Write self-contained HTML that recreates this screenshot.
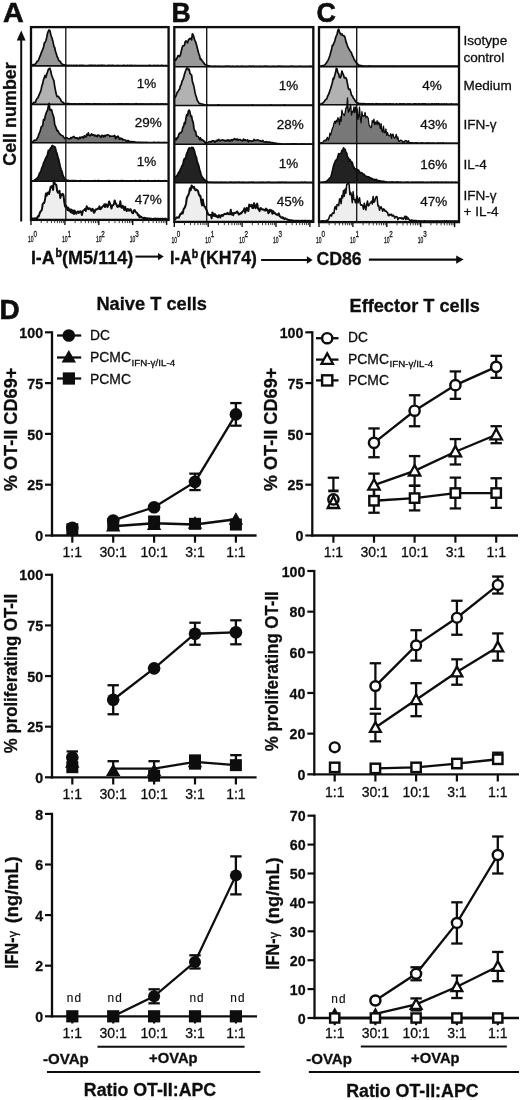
<!DOCTYPE html>
<html><head><meta charset="utf-8"><title>Figure</title>
<style>html,body{margin:0;padding:0;background:#fff;}svg{display:block;will-change:transform;}text{font-family:"Liberation Sans",sans-serif;fill:#0c0c0c;stroke:#0c0c0c;stroke-width:0.28px;}</style>
</head><body>
<svg width="520" height="1100" viewBox="0 0 520 1100">
<defs><filter id="soft" x="0" y="0" width="520" height="1100" filterUnits="userSpaceOnUse"><feGaussianBlur stdDeviation="0.38"/></filter></defs>
<rect x="0" y="0" width="520" height="1100" fill="#fff"/>
<g filter="url(#soft)">
<text x="2.90" y="21.60" font-size="27.2" font-weight="bold" textLength="20.7" lengthAdjust="spacingAndGlyphs" style="stroke-width:0.6px">A</text>
<text x="171.40" y="21.60" font-size="27.2" font-weight="bold" textLength="19.2" lengthAdjust="spacingAndGlyphs" style="stroke-width:0.6px">B</text>
<text x="316.40" y="21.60" font-size="27.2" font-weight="bold" textLength="19.4" lengthAdjust="spacingAndGlyphs" style="stroke-width:0.6px">C</text>
<text x="-0.60" y="318.70" font-size="28.0" font-weight="bold" textLength="20.2" lengthAdjust="spacingAndGlyphs" style="stroke-width:0.6px">D</text>
<path d="M31.5,65.7 L31.5,65.5 L32.3,65.1 L33.1,64.7 L33.9,64.6 L34.7,64.5 L35.5,63.8 L36.3,62.7 L37.1,61.4 L37.9,61.1 L38.7,59.7 L39.5,57.3 L40.3,55.7 L41.1,53.2 L41.9,51.2 L42.7,49.6 L43.5,47.4 L44.3,43.0 L45.1,42.5 L45.9,40.5 L46.7,37.7 L47.5,33.3 L48.3,31.3 L49.1,29.9 L49.9,30.6 L50.7,34.3 L51.5,36.8 L52.3,39.0 L53.1,42.2 L53.9,46.4 L54.7,47.5 L55.5,51.5 L56.3,53.6 L57.1,56.8 L57.9,58.0 L58.7,60.3 L59.5,61.2 L60.3,61.3 L61.1,63.3 L61.9,63.9 L62.7,64.6 L63.5,64.7 L64.3,64.9 L65.1,65.2 L65.9,65.2 L66.7,65.3 L67.5,65.5 L68.3,65.3 L69.1,65.5 L69.9,65.3 L70.7,65.5 L71.5,65.4 L72.3,65.5 L73.1,65.4 L73.9,65.5 L74.7,65.4 L75.5,65.5 L76.3,65.3 L77.1,65.4 L77.9,65.5 L78.7,65.5 L79.5,65.4 L80.3,65.4 L81.1,65.3 L81.9,65.5 L82.7,65.4 L83.5,65.4 L84.3,65.5 L85.1,65.5 L85.9,65.5 L86.7,65.5 L87.5,65.5 L88.3,65.5 L89.1,65.4 L89.9,65.3 L90.7,65.4 L91.5,65.4 L92.3,65.4 L93.1,65.4 L93.9,65.5 L94.7,65.4 L95.5,65.3 L96.3,65.5 L97.1,65.5 L97.9,65.3 L98.7,65.5 L99.5,65.4 L100.3,65.4 L101.1,65.5 L101.9,65.2 L102.7,65.3 L103.5,65.5 L104.3,65.4 L105.1,65.5 L105.9,65.5 L106.7,65.5 L107.5,65.5 L108.3,65.4 L109.1,65.4 L109.9,65.5 L110.7,65.4 L111.5,65.5 L112.3,65.4 L113.1,65.4 L113.9,65.5 L114.7,65.5 L115.5,65.5 L116.3,65.5 L117.1,65.5 L117.9,65.4 L118.7,65.5 L119.5,65.5 L120.3,65.5 L121.1,65.5 L121.9,65.5 L122.7,65.5 L123.5,65.3 L124.3,65.4 L125.1,65.5 L125.9,65.5 L126.7,65.5 L127.5,65.3 L128.3,65.5 L129.1,65.5 L129.9,65.4 L130.7,65.5 L131.5,65.3 L132.3,65.5 L133.1,65.5 L133.9,65.5 L134.7,65.4 L135.5,65.5 L136.3,65.5 L137.1,65.5 L137.9,65.5 L138.7,65.5 L139.5,65.5 L140.3,65.5 L141.1,65.5 L141.9,65.5 L142.7,65.5 L143.5,65.5 L144.3,65.5 L145.1,65.5 L145.9,65.5 L146.7,65.5 L147.5,65.5 L148.3,65.5 L149.1,65.4 L149.9,65.4 L150.7,65.5 L151.5,65.5 L152.3,65.5 L153.1,65.5 L153.9,65.5 L154.7,65.3 L155.5,65.5 L156.3,65.5 L157.1,65.5 L157.9,65.4 L158.7,65.5 L159.5,65.5 L160.3,65.5 L161.1,65.5 L161.9,65.2 L162.7,65.5 L163.5,65.5 L164.3,65.5 L165.1,65.5 L165.9,65.5 L166.7,65.5 L167.5,65.5 L168.1,65.7 Z" fill="#999999" stroke="none"/>
<path d="M31.5,65.5 L32.3,65.1 L33.1,64.7 L33.9,64.6 L34.7,64.5 L35.5,63.8 L36.3,62.7 L37.1,61.4 L37.9,61.1 L38.7,59.7 L39.5,57.3 L40.3,55.7 L41.1,53.2 L41.9,51.2 L42.7,49.6 L43.5,47.4 L44.3,43.0 L45.1,42.5 L45.9,40.5 L46.7,37.7 L47.5,33.3 L48.3,31.3 L49.1,29.9 L49.9,30.6 L50.7,34.3 L51.5,36.8 L52.3,39.0 L53.1,42.2 L53.9,46.4 L54.7,47.5 L55.5,51.5 L56.3,53.6 L57.1,56.8 L57.9,58.0 L58.7,60.3 L59.5,61.2 L60.3,61.3 L61.1,63.3 L61.9,63.9 L62.7,64.6 L63.5,64.7 L64.3,64.9 L65.1,65.2 L65.9,65.2 L66.7,65.3 L67.5,65.5 L68.3,65.3 L69.1,65.5 L69.9,65.3 L70.7,65.5 L71.5,65.4 L72.3,65.5 L73.1,65.4 L73.9,65.5 L74.7,65.4 L75.5,65.5 L76.3,65.3 L77.1,65.4 L77.9,65.5 L78.7,65.5 L79.5,65.4 L80.3,65.4 L81.1,65.3 L81.9,65.5 L82.7,65.4 L83.5,65.4 L84.3,65.5 L85.1,65.5 L85.9,65.5 L86.7,65.5 L87.5,65.5 L88.3,65.5 L89.1,65.4 L89.9,65.3 L90.7,65.4 L91.5,65.4 L92.3,65.4 L93.1,65.4 L93.9,65.5 L94.7,65.4 L95.5,65.3 L96.3,65.5 L97.1,65.5 L97.9,65.3 L98.7,65.5 L99.5,65.4 L100.3,65.4 L101.1,65.5 L101.9,65.2 L102.7,65.3 L103.5,65.5 L104.3,65.4 L105.1,65.5 L105.9,65.5 L106.7,65.5 L107.5,65.5 L108.3,65.4 L109.1,65.4 L109.9,65.5 L110.7,65.4 L111.5,65.5 L112.3,65.4 L113.1,65.4 L113.9,65.5 L114.7,65.5 L115.5,65.5 L116.3,65.5 L117.1,65.5 L117.9,65.4 L118.7,65.5 L119.5,65.5 L120.3,65.5 L121.1,65.5 L121.9,65.5 L122.7,65.5 L123.5,65.3 L124.3,65.4 L125.1,65.5 L125.9,65.5 L126.7,65.5 L127.5,65.3 L128.3,65.5 L129.1,65.5 L129.9,65.4 L130.7,65.5 L131.5,65.3 L132.3,65.5 L133.1,65.5 L133.9,65.5 L134.7,65.4 L135.5,65.5 L136.3,65.5 L137.1,65.5 L137.9,65.5 L138.7,65.5 L139.5,65.5 L140.3,65.5 L141.1,65.5 L141.9,65.5 L142.7,65.5 L143.5,65.5 L144.3,65.5 L145.1,65.5 L145.9,65.5 L146.7,65.5 L147.5,65.5 L148.3,65.5 L149.1,65.4 L149.9,65.4 L150.7,65.5 L151.5,65.5 L152.3,65.5 L153.1,65.5 L153.9,65.5 L154.7,65.3 L155.5,65.5 L156.3,65.5 L157.1,65.5 L157.9,65.4 L158.7,65.5 L159.5,65.5 L160.3,65.5 L161.1,65.5 L161.9,65.2 L162.7,65.5 L163.5,65.5 L164.3,65.5 L165.1,65.5 L165.9,65.5 L166.7,65.5 L167.5,65.5" fill="none" stroke="#0a0a0a" stroke-width="1.7" stroke-linejoin="round"/>
<path d="M31.5,104.2 L31.5,104.0 L32.3,103.8 L33.1,103.1 L33.9,102.3 L34.7,102.6 L35.5,102.1 L36.3,99.9 L37.1,98.4 L37.9,97.9 L38.7,95.9 L39.5,93.9 L40.3,92.2 L41.1,89.7 L41.9,85.7 L42.7,83.6 L43.5,79.8 L44.3,77.6 L45.1,75.4 L45.9,77.5 L46.7,74.6 L47.5,72.1 L48.3,69.5 L49.1,68.7 L49.9,68.2 L50.7,71.0 L51.5,74.8 L52.3,77.0 L53.1,79.0 L53.9,80.8 L54.7,86.3 L55.5,90.6 L56.3,94.3 L57.1,96.6 L57.9,96.3 L58.7,96.8 L59.5,98.3 L60.3,98.9 L61.1,100.9 L61.9,101.8 L62.7,102.1 L63.5,103.0 L64.3,103.5 L65.1,103.5 L65.9,103.7 L66.7,103.5 L67.5,103.7 L68.3,103.6 L69.1,103.7 L69.9,104.0 L70.7,103.7 L71.5,103.9 L72.3,104.0 L73.1,103.9 L73.9,103.8 L74.7,103.8 L75.5,103.8 L76.3,104.0 L77.1,104.0 L77.9,104.0 L78.7,103.9 L79.5,103.8 L80.3,104.0 L81.1,103.9 L81.9,103.9 L82.7,103.8 L83.5,104.0 L84.3,104.0 L85.1,104.0 L85.9,103.7 L86.7,103.8 L87.5,103.9 L88.3,103.9 L89.1,103.9 L89.9,103.9 L90.7,104.0 L91.5,104.0 L92.3,104.0 L93.1,104.0 L93.9,103.7 L94.7,103.9 L95.5,103.9 L96.3,104.0 L97.1,103.9 L97.9,103.9 L98.7,104.0 L99.5,103.9 L100.3,103.9 L101.1,104.0 L101.9,104.0 L102.7,104.0 L103.5,104.0 L104.3,103.9 L105.1,104.0 L105.9,104.0 L106.7,104.0 L107.5,104.0 L108.3,104.0 L109.1,103.8 L109.9,104.0 L110.7,104.0 L111.5,104.0 L112.3,104.0 L113.1,103.9 L113.9,104.0 L114.7,104.0 L115.5,104.0 L116.3,104.0 L117.1,104.0 L117.9,103.9 L118.7,103.9 L119.5,104.0 L120.3,103.8 L121.1,104.0 L121.9,103.9 L122.7,103.9 L123.5,104.0 L124.3,104.0 L125.1,104.0 L125.9,103.9 L126.7,103.9 L127.5,104.0 L128.3,103.9 L129.1,104.0 L129.9,104.0 L130.7,104.0 L131.5,104.0 L132.3,104.0 L133.1,104.0 L133.9,104.0 L134.7,104.0 L135.5,103.8 L136.3,103.7 L137.1,104.0 L137.9,104.0 L138.7,104.0 L139.5,104.0 L140.3,103.8 L141.1,104.0 L141.9,104.0 L142.7,103.9 L143.5,104.0 L144.3,104.0 L145.1,104.0 L145.9,104.0 L146.7,104.0 L147.5,104.0 L148.3,104.0 L149.1,104.0 L149.9,104.0 L150.7,104.0 L151.5,103.9 L152.3,104.0 L153.1,104.0 L153.9,104.0 L154.7,104.0 L155.5,104.0 L156.3,104.0 L157.1,103.9 L157.9,104.0 L158.7,104.0 L159.5,104.0 L160.3,104.0 L161.1,103.9 L161.9,104.0 L162.7,103.9 L163.5,104.0 L164.3,104.0 L165.1,104.0 L165.9,104.0 L166.7,104.0 L167.5,104.0 L168.1,104.2 Z" fill="#b2b2b2" stroke="none"/>
<path d="M31.5,104.0 L32.3,103.8 L33.1,103.1 L33.9,102.3 L34.7,102.6 L35.5,102.1 L36.3,99.9 L37.1,98.4 L37.9,97.9 L38.7,95.9 L39.5,93.9 L40.3,92.2 L41.1,89.7 L41.9,85.7 L42.7,83.6 L43.5,79.8 L44.3,77.6 L45.1,75.4 L45.9,77.5 L46.7,74.6 L47.5,72.1 L48.3,69.5 L49.1,68.7 L49.9,68.2 L50.7,71.0 L51.5,74.8 L52.3,77.0 L53.1,79.0 L53.9,80.8 L54.7,86.3 L55.5,90.6 L56.3,94.3 L57.1,96.6 L57.9,96.3 L58.7,96.8 L59.5,98.3 L60.3,98.9 L61.1,100.9 L61.9,101.8 L62.7,102.1 L63.5,103.0 L64.3,103.5 L65.1,103.5 L65.9,103.7 L66.7,103.5 L67.5,103.7 L68.3,103.6 L69.1,103.7 L69.9,104.0 L70.7,103.7 L71.5,103.9 L72.3,104.0 L73.1,103.9 L73.9,103.8 L74.7,103.8 L75.5,103.8 L76.3,104.0 L77.1,104.0 L77.9,104.0 L78.7,103.9 L79.5,103.8 L80.3,104.0 L81.1,103.9 L81.9,103.9 L82.7,103.8 L83.5,104.0 L84.3,104.0 L85.1,104.0 L85.9,103.7 L86.7,103.8 L87.5,103.9 L88.3,103.9 L89.1,103.9 L89.9,103.9 L90.7,104.0 L91.5,104.0 L92.3,104.0 L93.1,104.0 L93.9,103.7 L94.7,103.9 L95.5,103.9 L96.3,104.0 L97.1,103.9 L97.9,103.9 L98.7,104.0 L99.5,103.9 L100.3,103.9 L101.1,104.0 L101.9,104.0 L102.7,104.0 L103.5,104.0 L104.3,103.9 L105.1,104.0 L105.9,104.0 L106.7,104.0 L107.5,104.0 L108.3,104.0 L109.1,103.8 L109.9,104.0 L110.7,104.0 L111.5,104.0 L112.3,104.0 L113.1,103.9 L113.9,104.0 L114.7,104.0 L115.5,104.0 L116.3,104.0 L117.1,104.0 L117.9,103.9 L118.7,103.9 L119.5,104.0 L120.3,103.8 L121.1,104.0 L121.9,103.9 L122.7,103.9 L123.5,104.0 L124.3,104.0 L125.1,104.0 L125.9,103.9 L126.7,103.9 L127.5,104.0 L128.3,103.9 L129.1,104.0 L129.9,104.0 L130.7,104.0 L131.5,104.0 L132.3,104.0 L133.1,104.0 L133.9,104.0 L134.7,104.0 L135.5,103.8 L136.3,103.7 L137.1,104.0 L137.9,104.0 L138.7,104.0 L139.5,104.0 L140.3,103.8 L141.1,104.0 L141.9,104.0 L142.7,103.9 L143.5,104.0 L144.3,104.0 L145.1,104.0 L145.9,104.0 L146.7,104.0 L147.5,104.0 L148.3,104.0 L149.1,104.0 L149.9,104.0 L150.7,104.0 L151.5,103.9 L152.3,104.0 L153.1,104.0 L153.9,104.0 L154.7,104.0 L155.5,104.0 L156.3,104.0 L157.1,103.9 L157.9,104.0 L158.7,104.0 L159.5,104.0 L160.3,104.0 L161.1,103.9 L161.9,104.0 L162.7,103.9 L163.5,104.0 L164.3,104.0 L165.1,104.0 L165.9,104.0 L166.7,104.0 L167.5,104.0" fill="none" stroke="#0a0a0a" stroke-width="1.7" stroke-linejoin="round"/>
<path d="M31.5,142.6 L31.5,142.1 L32.3,142.3 L33.1,141.7 L33.9,140.6 L34.7,140.2 L35.5,140.3 L36.3,139.9 L37.1,138.5 L37.9,137.3 L38.7,134.8 L39.5,132.8 L40.3,130.9 L41.1,127.2 L41.9,126.4 L42.7,125.6 L43.5,119.6 L44.3,120.2 L45.1,116.8 L45.9,113.8 L46.7,111.7 L47.5,110.4 L48.3,106.5 L49.1,103.4 L49.9,109.9 L50.7,110.4 L51.5,109.6 L52.3,112.8 L53.1,115.3 L53.9,117.7 L54.7,124.7 L55.5,126.4 L56.3,128.4 L57.1,130.6 L57.9,130.7 L58.7,132.3 L59.5,133.8 L60.3,134.3 L61.1,135.3 L61.9,135.5 L62.7,135.7 L63.5,137.1 L64.3,137.9 L65.1,138.5 L65.9,137.5 L66.7,137.7 L67.5,138.2 L68.3,138.6 L69.1,138.8 L69.9,138.7 L70.7,137.7 L71.5,138.3 L72.3,137.2 L73.1,137.1 L73.9,136.5 L74.7,137.8 L75.5,137.9 L76.3,138.1 L77.1,137.8 L77.9,138.9 L78.7,138.8 L79.5,137.3 L80.3,138.4 L81.1,137.1 L81.9,137.5 L82.7,137.0 L83.5,138.0 L84.3,135.9 L85.1,136.7 L85.9,136.9 L86.7,134.4 L87.5,135.3 L88.3,132.9 L89.1,135.3 L89.9,135.7 L90.7,135.2 L91.5,133.8 L92.3,135.1 L93.1,134.8 L93.9,134.8 L94.7,136.1 L95.5,135.3 L96.3,135.9 L97.1,136.6 L97.9,135.0 L98.7,135.2 L99.5,135.8 L100.3,136.6 L101.1,137.4 L101.9,135.3 L102.7,135.7 L103.5,136.9 L104.3,135.5 L105.1,136.6 L105.9,135.3 L106.7,135.1 L107.5,134.8 L108.3,135.0 L109.1,135.2 L109.9,136.5 L110.7,136.1 L111.5,136.3 L112.3,136.3 L113.1,136.1 L113.9,136.1 L114.7,135.5 L115.5,138.8 L116.3,136.8 L117.1,137.5 L117.9,136.1 L118.7,137.3 L119.5,139.2 L120.3,138.2 L121.1,139.0 L121.9,138.4 L122.7,139.8 L123.5,139.5 L124.3,139.8 L125.1,140.0 L125.9,140.5 L126.7,141.3 L127.5,140.6 L128.3,140.7 L129.1,141.3 L129.9,141.6 L130.7,141.6 L131.5,141.6 L132.3,141.8 L133.1,141.8 L133.9,141.7 L134.7,142.1 L135.5,142.1 L136.3,142.4 L137.1,142.3 L137.9,142.4 L138.7,142.4 L139.5,142.4 L140.3,142.2 L141.1,142.4 L141.9,142.5 L142.7,142.2 L143.5,142.5 L144.3,142.5 L145.1,142.4 L145.9,142.5 L146.7,142.3 L147.5,142.5 L148.3,142.5 L149.1,142.5 L149.9,142.5 L150.7,142.5 L151.5,142.5 L152.3,142.5 L153.1,142.5 L153.9,142.4 L154.7,142.4 L155.5,142.5 L156.3,142.5 L157.1,142.5 L157.9,142.5 L158.7,142.2 L159.5,142.5 L160.3,142.5 L161.1,142.5 L161.9,142.5 L162.7,142.5 L163.5,142.5 L164.3,142.3 L165.1,142.5 L165.9,142.5 L166.7,142.5 L167.5,142.5 L168.1,142.6 Z" fill="#787878" stroke="none"/>
<path d="M31.5,142.1 L32.3,142.3 L33.1,141.7 L33.9,140.6 L34.7,140.2 L35.5,140.3 L36.3,139.9 L37.1,138.5 L37.9,137.3 L38.7,134.8 L39.5,132.8 L40.3,130.9 L41.1,127.2 L41.9,126.4 L42.7,125.6 L43.5,119.6 L44.3,120.2 L45.1,116.8 L45.9,113.8 L46.7,111.7 L47.5,110.4 L48.3,106.5 L49.1,103.4 L49.9,109.9 L50.7,110.4 L51.5,109.6 L52.3,112.8 L53.1,115.3 L53.9,117.7 L54.7,124.7 L55.5,126.4 L56.3,128.4 L57.1,130.6 L57.9,130.7 L58.7,132.3 L59.5,133.8 L60.3,134.3 L61.1,135.3 L61.9,135.5 L62.7,135.7 L63.5,137.1 L64.3,137.9 L65.1,138.5 L65.9,137.5 L66.7,137.7 L67.5,138.2 L68.3,138.6 L69.1,138.8 L69.9,138.7 L70.7,137.7 L71.5,138.3 L72.3,137.2 L73.1,137.1 L73.9,136.5 L74.7,137.8 L75.5,137.9 L76.3,138.1 L77.1,137.8 L77.9,138.9 L78.7,138.8 L79.5,137.3 L80.3,138.4 L81.1,137.1 L81.9,137.5 L82.7,137.0 L83.5,138.0 L84.3,135.9 L85.1,136.7 L85.9,136.9 L86.7,134.4 L87.5,135.3 L88.3,132.9 L89.1,135.3 L89.9,135.7 L90.7,135.2 L91.5,133.8 L92.3,135.1 L93.1,134.8 L93.9,134.8 L94.7,136.1 L95.5,135.3 L96.3,135.9 L97.1,136.6 L97.9,135.0 L98.7,135.2 L99.5,135.8 L100.3,136.6 L101.1,137.4 L101.9,135.3 L102.7,135.7 L103.5,136.9 L104.3,135.5 L105.1,136.6 L105.9,135.3 L106.7,135.1 L107.5,134.8 L108.3,135.0 L109.1,135.2 L109.9,136.5 L110.7,136.1 L111.5,136.3 L112.3,136.3 L113.1,136.1 L113.9,136.1 L114.7,135.5 L115.5,138.8 L116.3,136.8 L117.1,137.5 L117.9,136.1 L118.7,137.3 L119.5,139.2 L120.3,138.2 L121.1,139.0 L121.9,138.4 L122.7,139.8 L123.5,139.5 L124.3,139.8 L125.1,140.0 L125.9,140.5 L126.7,141.3 L127.5,140.6 L128.3,140.7 L129.1,141.3 L129.9,141.6 L130.7,141.6 L131.5,141.6 L132.3,141.8 L133.1,141.8 L133.9,141.7 L134.7,142.1 L135.5,142.1 L136.3,142.4 L137.1,142.3 L137.9,142.4 L138.7,142.4 L139.5,142.4 L140.3,142.2 L141.1,142.4 L141.9,142.5 L142.7,142.2 L143.5,142.5 L144.3,142.5 L145.1,142.4 L145.9,142.5 L146.7,142.3 L147.5,142.5 L148.3,142.5 L149.1,142.5 L149.9,142.5 L150.7,142.5 L151.5,142.5 L152.3,142.5 L153.1,142.5 L153.9,142.4 L154.7,142.4 L155.5,142.5 L156.3,142.5 L157.1,142.5 L157.9,142.5 L158.7,142.2 L159.5,142.5 L160.3,142.5 L161.1,142.5 L161.9,142.5 L162.7,142.5 L163.5,142.5 L164.3,142.3 L165.1,142.5 L165.9,142.5 L166.7,142.5 L167.5,142.5" fill="none" stroke="#0a0a0a" stroke-width="1.7" stroke-linejoin="round"/>
<path d="M31.5,181.0 L31.5,180.8 L32.3,180.8 L33.1,180.8 L33.9,180.7 L34.7,180.0 L35.5,179.4 L36.3,178.8 L37.1,178.2 L37.9,177.4 L38.7,175.7 L39.5,173.1 L40.3,172.4 L41.1,170.2 L41.9,167.6 L42.7,166.2 L43.5,163.1 L44.3,161.8 L45.1,159.5 L45.9,157.6 L46.7,156.5 L47.5,154.5 L48.3,150.6 L49.1,150.2 L49.9,149.2 L50.7,147.8 L51.5,147.0 L52.3,145.5 L53.1,145.9 L53.9,146.7 L54.7,146.6 L55.5,148.4 L56.3,151.7 L57.1,153.8 L57.9,156.9 L58.7,159.3 L59.5,163.3 L60.3,166.7 L61.1,169.5 L61.9,171.2 L62.7,174.3 L63.5,176.7 L64.3,178.0 L65.1,178.8 L65.9,179.6 L66.7,180.1 L67.5,180.6 L68.3,180.3 L69.1,180.6 L69.9,180.8 L70.7,180.5 L71.5,180.8 L72.3,180.6 L73.1,180.7 L73.9,180.8 L74.7,180.7 L75.5,180.7 L76.3,180.8 L77.1,180.8 L77.9,180.8 L78.7,180.8 L79.5,180.8 L80.3,180.6 L81.1,180.8 L81.9,180.8 L82.7,180.8 L83.5,180.8 L84.3,180.8 L85.1,180.8 L85.9,180.8 L86.7,180.8 L87.5,180.8 L88.3,180.8 L89.1,180.8 L89.9,180.8 L90.7,180.8 L91.5,180.8 L92.3,180.8 L93.1,180.8 L93.9,180.8 L94.7,180.5 L95.5,180.8 L96.3,180.8 L97.1,180.8 L97.9,180.6 L98.7,180.7 L99.5,180.8 L100.3,180.8 L101.1,180.8 L101.9,180.8 L102.7,180.8 L103.5,180.8 L104.3,180.8 L105.1,180.8 L105.9,180.8 L106.7,180.8 L107.5,180.8 L108.3,180.5 L109.1,180.6 L109.9,180.8 L110.7,180.8 L111.5,180.8 L112.3,180.8 L113.1,180.7 L113.9,180.8 L114.7,180.8 L115.5,180.8 L116.3,180.8 L117.1,180.7 L117.9,180.8 L118.7,180.8 L119.5,180.8 L120.3,180.8 L121.1,180.7 L121.9,180.8 L122.7,180.7 L123.5,180.8 L124.3,180.8 L125.1,180.8 L125.9,180.8 L126.7,180.8 L127.5,180.8 L128.3,180.8 L129.1,180.8 L129.9,180.8 L130.7,180.8 L131.5,180.8 L132.3,180.8 L133.1,180.8 L133.9,180.8 L134.7,180.8 L135.5,180.7 L136.3,180.8 L137.1,180.8 L137.9,180.8 L138.7,180.8 L139.5,180.7 L140.3,180.7 L141.1,180.8 L141.9,180.8 L142.7,180.8 L143.5,180.8 L144.3,180.8 L145.1,180.8 L145.9,180.8 L146.7,180.8 L147.5,180.8 L148.3,180.7 L149.1,180.8 L149.9,180.8 L150.7,180.8 L151.5,180.8 L152.3,180.8 L153.1,180.8 L153.9,180.8 L154.7,180.7 L155.5,180.8 L156.3,180.8 L157.1,180.8 L157.9,180.8 L158.7,180.6 L159.5,180.8 L160.3,180.8 L161.1,180.8 L161.9,180.8 L162.7,180.8 L163.5,180.8 L164.3,180.8 L165.1,180.7 L165.9,180.8 L166.7,180.8 L167.5,180.8 L168.1,181.0 Z" fill="#202020" stroke="none"/>
<path d="M31.5,180.8 L32.3,180.8 L33.1,180.8 L33.9,180.7 L34.7,180.0 L35.5,179.4 L36.3,178.8 L37.1,178.2 L37.9,177.4 L38.7,175.7 L39.5,173.1 L40.3,172.4 L41.1,170.2 L41.9,167.6 L42.7,166.2 L43.5,163.1 L44.3,161.8 L45.1,159.5 L45.9,157.6 L46.7,156.5 L47.5,154.5 L48.3,150.6 L49.1,150.2 L49.9,149.2 L50.7,147.8 L51.5,147.0 L52.3,145.5 L53.1,145.9 L53.9,146.7 L54.7,146.6 L55.5,148.4 L56.3,151.7 L57.1,153.8 L57.9,156.9 L58.7,159.3 L59.5,163.3 L60.3,166.7 L61.1,169.5 L61.9,171.2 L62.7,174.3 L63.5,176.7 L64.3,178.0 L65.1,178.8 L65.9,179.6 L66.7,180.1 L67.5,180.6 L68.3,180.3 L69.1,180.6 L69.9,180.8 L70.7,180.5 L71.5,180.8 L72.3,180.6 L73.1,180.7 L73.9,180.8 L74.7,180.7 L75.5,180.7 L76.3,180.8 L77.1,180.8 L77.9,180.8 L78.7,180.8 L79.5,180.8 L80.3,180.6 L81.1,180.8 L81.9,180.8 L82.7,180.8 L83.5,180.8 L84.3,180.8 L85.1,180.8 L85.9,180.8 L86.7,180.8 L87.5,180.8 L88.3,180.8 L89.1,180.8 L89.9,180.8 L90.7,180.8 L91.5,180.8 L92.3,180.8 L93.1,180.8 L93.9,180.8 L94.7,180.5 L95.5,180.8 L96.3,180.8 L97.1,180.8 L97.9,180.6 L98.7,180.7 L99.5,180.8 L100.3,180.8 L101.1,180.8 L101.9,180.8 L102.7,180.8 L103.5,180.8 L104.3,180.8 L105.1,180.8 L105.9,180.8 L106.7,180.8 L107.5,180.8 L108.3,180.5 L109.1,180.6 L109.9,180.8 L110.7,180.8 L111.5,180.8 L112.3,180.8 L113.1,180.7 L113.9,180.8 L114.7,180.8 L115.5,180.8 L116.3,180.8 L117.1,180.7 L117.9,180.8 L118.7,180.8 L119.5,180.8 L120.3,180.8 L121.1,180.7 L121.9,180.8 L122.7,180.7 L123.5,180.8 L124.3,180.8 L125.1,180.8 L125.9,180.8 L126.7,180.8 L127.5,180.8 L128.3,180.8 L129.1,180.8 L129.9,180.8 L130.7,180.8 L131.5,180.8 L132.3,180.8 L133.1,180.8 L133.9,180.8 L134.7,180.8 L135.5,180.7 L136.3,180.8 L137.1,180.8 L137.9,180.8 L138.7,180.8 L139.5,180.7 L140.3,180.7 L141.1,180.8 L141.9,180.8 L142.7,180.8 L143.5,180.8 L144.3,180.8 L145.1,180.8 L145.9,180.8 L146.7,180.8 L147.5,180.8 L148.3,180.7 L149.1,180.8 L149.9,180.8 L150.7,180.8 L151.5,180.8 L152.3,180.8 L153.1,180.8 L153.9,180.8 L154.7,180.7 L155.5,180.8 L156.3,180.8 L157.1,180.8 L157.9,180.8 L158.7,180.6 L159.5,180.8 L160.3,180.8 L161.1,180.8 L161.9,180.8 L162.7,180.8 L163.5,180.8 L164.3,180.8 L165.1,180.7 L165.9,180.8 L166.7,180.8 L167.5,180.8" fill="none" stroke="#0a0a0a" stroke-width="1.7" stroke-linejoin="round"/>
<path d="M31.5,219.1 L31.5,218.8 L32.3,218.6 L33.1,218.7 L33.9,218.5 L34.7,218.4 L35.5,218.2 L36.3,218.3 L37.1,218.3 L37.9,216.2 L38.7,216.5 L39.5,213.8 L40.3,211.8 L41.1,211.0 L41.9,209.7 L42.7,204.2 L43.5,203.0 L44.3,202.9 L45.1,198.9 L45.9,193.6 L46.7,195.6 L47.5,193.0 L48.3,192.4 L49.1,194.1 L49.9,190.2 L50.7,187.0 L51.5,186.2 L52.3,186.0 L53.1,190.0 L53.9,180.7 L54.7,183.5 L55.5,184.2 L56.3,185.0 L57.1,190.7 L57.9,192.7 L58.7,192.2 L59.5,190.8 L60.3,198.0 L61.1,194.5 L61.9,195.1 L62.7,193.8 L63.5,195.3 L64.3,202.1 L65.1,206.6 L65.9,205.5 L66.7,207.2 L67.5,210.1 L68.3,207.7 L69.1,210.7 L69.9,209.4 L70.7,212.3 L71.5,209.6 L72.3,213.1 L73.1,210.4 L73.9,214.1 L74.7,210.6 L75.5,212.5 L76.3,213.8 L77.1,212.1 L77.9,211.4 L78.7,212.9 L79.5,212.2 L80.3,211.2 L81.1,211.6 L81.9,215.0 L82.7,211.5 L83.5,210.2 L84.3,210.1 L85.1,208.9 L85.9,210.9 L86.7,206.3 L87.5,208.4 L88.3,209.1 L89.1,208.1 L89.9,208.4 L90.7,209.7 L91.5,210.8 L92.3,208.7 L93.1,209.7 L93.9,212.8 L94.7,211.8 L95.5,209.5 L96.3,209.7 L97.1,209.2 L97.9,208.4 L98.7,208.8 L99.5,206.4 L100.3,209.2 L101.1,208.7 L101.9,207.3 L102.7,206.3 L103.5,205.9 L104.3,204.4 L105.1,207.1 L105.9,204.2 L106.7,204.9 L107.5,207.0 L108.3,205.3 L109.1,201.4 L109.9,203.4 L110.7,205.4 L111.5,208.5 L112.3,205.5 L113.1,205.3 L113.9,204.0 L114.7,200.4 L115.5,203.3 L116.3,204.2 L117.1,206.4 L117.9,207.0 L118.7,205.6 L119.5,206.4 L120.3,201.3 L121.1,207.1 L121.9,207.9 L122.7,205.7 L123.5,207.7 L124.3,210.0 L125.1,206.7 L125.9,209.3 L126.7,211.1 L127.5,209.1 L128.3,209.3 L129.1,210.7 L129.9,209.5 L130.7,209.3 L131.5,211.4 L132.3,212.9 L133.1,213.3 L133.9,210.5 L134.7,210.1 L135.5,211.7 L136.3,212.6 L137.1,212.9 L137.9,215.1 L138.7,214.8 L139.5,217.4 L140.3,216.3 L141.1,216.8 L141.9,217.3 L142.7,217.7 L143.5,218.3 L144.3,217.8 L145.1,217.9 L145.9,218.3 L146.7,218.3 L147.5,218.5 L148.3,218.5 L149.1,218.7 L149.9,218.6 L150.7,218.8 L151.5,218.8 L152.3,218.9 L153.1,218.9 L153.9,218.8 L154.7,218.7 L155.5,218.6 L156.3,218.9 L157.1,218.7 L157.9,218.7 L158.7,218.8 L159.5,218.9 L160.3,218.8 L161.1,218.9 L161.9,218.7 L162.7,218.8 L163.5,218.8 L164.3,218.9 L165.1,218.8 L165.9,218.8 L166.7,218.9 L167.5,218.8 L168.1,219.1 Z" fill="#eeeeee" stroke="none"/>
<path d="M31.5,218.8 L32.3,218.6 L33.1,218.7 L33.9,218.5 L34.7,218.4 L35.5,218.2 L36.3,218.3 L37.1,218.3 L37.9,216.2 L38.7,216.5 L39.5,213.8 L40.3,211.8 L41.1,211.0 L41.9,209.7 L42.7,204.2 L43.5,203.0 L44.3,202.9 L45.1,198.9 L45.9,193.6 L46.7,195.6 L47.5,193.0 L48.3,192.4 L49.1,194.1 L49.9,190.2 L50.7,187.0 L51.5,186.2 L52.3,186.0 L53.1,190.0 L53.9,180.7 L54.7,183.5 L55.5,184.2 L56.3,185.0 L57.1,190.7 L57.9,192.7 L58.7,192.2 L59.5,190.8 L60.3,198.0 L61.1,194.5 L61.9,195.1 L62.7,193.8 L63.5,195.3 L64.3,202.1 L65.1,206.6 L65.9,205.5 L66.7,207.2 L67.5,210.1 L68.3,207.7 L69.1,210.7 L69.9,209.4 L70.7,212.3 L71.5,209.6 L72.3,213.1 L73.1,210.4 L73.9,214.1 L74.7,210.6 L75.5,212.5 L76.3,213.8 L77.1,212.1 L77.9,211.4 L78.7,212.9 L79.5,212.2 L80.3,211.2 L81.1,211.6 L81.9,215.0 L82.7,211.5 L83.5,210.2 L84.3,210.1 L85.1,208.9 L85.9,210.9 L86.7,206.3 L87.5,208.4 L88.3,209.1 L89.1,208.1 L89.9,208.4 L90.7,209.7 L91.5,210.8 L92.3,208.7 L93.1,209.7 L93.9,212.8 L94.7,211.8 L95.5,209.5 L96.3,209.7 L97.1,209.2 L97.9,208.4 L98.7,208.8 L99.5,206.4 L100.3,209.2 L101.1,208.7 L101.9,207.3 L102.7,206.3 L103.5,205.9 L104.3,204.4 L105.1,207.1 L105.9,204.2 L106.7,204.9 L107.5,207.0 L108.3,205.3 L109.1,201.4 L109.9,203.4 L110.7,205.4 L111.5,208.5 L112.3,205.5 L113.1,205.3 L113.9,204.0 L114.7,200.4 L115.5,203.3 L116.3,204.2 L117.1,206.4 L117.9,207.0 L118.7,205.6 L119.5,206.4 L120.3,201.3 L121.1,207.1 L121.9,207.9 L122.7,205.7 L123.5,207.7 L124.3,210.0 L125.1,206.7 L125.9,209.3 L126.7,211.1 L127.5,209.1 L128.3,209.3 L129.1,210.7 L129.9,209.5 L130.7,209.3 L131.5,211.4 L132.3,212.9 L133.1,213.3 L133.9,210.5 L134.7,210.1 L135.5,211.7 L136.3,212.6 L137.1,212.9 L137.9,215.1 L138.7,214.8 L139.5,217.4 L140.3,216.3 L141.1,216.8 L141.9,217.3 L142.7,217.7 L143.5,218.3 L144.3,217.8 L145.1,217.9 L145.9,218.3 L146.7,218.3 L147.5,218.5 L148.3,218.5 L149.1,218.7 L149.9,218.6 L150.7,218.8 L151.5,218.8 L152.3,218.9 L153.1,218.9 L153.9,218.8 L154.7,218.7 L155.5,218.6 L156.3,218.9 L157.1,218.7 L157.9,218.7 L158.7,218.8 L159.5,218.9 L160.3,218.8 L161.1,218.9 L161.9,218.7 L162.7,218.8 L163.5,218.8 L164.3,218.9 L165.1,218.8 L165.9,218.8 L166.7,218.9 L167.5,218.8" fill="none" stroke="#0a0a0a" stroke-width="2.0" stroke-linejoin="round"/>
<line x1="31.00" y1="65.90" x2="168.60" y2="65.90" stroke="#0c0c0c" stroke-width="1.6" stroke-linecap="butt"/>
<line x1="31.00" y1="104.40" x2="168.60" y2="104.40" stroke="#0c0c0c" stroke-width="1.6" stroke-linecap="butt"/>
<line x1="31.00" y1="142.80" x2="168.60" y2="142.80" stroke="#0c0c0c" stroke-width="1.6" stroke-linecap="butt"/>
<line x1="31.00" y1="181.20" x2="168.60" y2="181.20" stroke="#0c0c0c" stroke-width="1.6" stroke-linecap="butt"/>
<line x1="65.80" y1="27.10" x2="65.80" y2="219.90" stroke="#111" stroke-width="1.3" stroke-linecap="butt"/>
<rect x="31.00" y="27.10" width="137.60" height="192.80" fill="none" stroke="#0c0c0c" stroke-width="2.3"/>
<text x="146.40" y="88.10" font-size="13.5" text-anchor="middle" >1%</text>
<text x="148.30" y="126.70" font-size="13.5" text-anchor="middle" >29%</text>
<text x="146.40" y="166.10" font-size="13.5" text-anchor="middle" >1%</text>
<text x="148.30" y="203.70" font-size="13.5" text-anchor="middle" >47%</text>
<line x1="31.00" y1="219.90" x2="31.00" y2="224.90" stroke="#111" stroke-width="1.4" stroke-linecap="butt"/>
<line x1="41.20" y1="219.90" x2="41.20" y2="223.10" stroke="#222" stroke-width="0.9" stroke-linecap="butt"/>
<line x1="47.17" y1="219.90" x2="47.17" y2="223.10" stroke="#222" stroke-width="0.9" stroke-linecap="butt"/>
<line x1="51.41" y1="219.90" x2="51.41" y2="223.10" stroke="#222" stroke-width="0.9" stroke-linecap="butt"/>
<line x1="54.70" y1="219.90" x2="54.70" y2="223.10" stroke="#222" stroke-width="0.9" stroke-linecap="butt"/>
<line x1="57.38" y1="219.90" x2="57.38" y2="223.10" stroke="#222" stroke-width="0.9" stroke-linecap="butt"/>
<line x1="59.65" y1="219.90" x2="59.65" y2="223.10" stroke="#222" stroke-width="0.9" stroke-linecap="butt"/>
<line x1="61.61" y1="219.90" x2="61.61" y2="223.10" stroke="#222" stroke-width="0.9" stroke-linecap="butt"/>
<line x1="63.35" y1="219.90" x2="63.35" y2="223.10" stroke="#222" stroke-width="0.9" stroke-linecap="butt"/>
<text transform="translate(28.10,242.30) scale(0.52,1)" font-size="9.6" fill="#222" stroke="#222" stroke-width="0.5">10</text>
<text transform="translate(33.50,236.50) scale(0.68,1)" font-size="9.3" fill="#222" stroke="#222" stroke-width="0.4">0</text>
<line x1="64.90" y1="219.90" x2="64.90" y2="224.90" stroke="#111" stroke-width="1.4" stroke-linecap="butt"/>
<line x1="75.10" y1="219.90" x2="75.10" y2="223.10" stroke="#222" stroke-width="0.9" stroke-linecap="butt"/>
<line x1="81.07" y1="219.90" x2="81.07" y2="223.10" stroke="#222" stroke-width="0.9" stroke-linecap="butt"/>
<line x1="85.31" y1="219.90" x2="85.31" y2="223.10" stroke="#222" stroke-width="0.9" stroke-linecap="butt"/>
<line x1="88.60" y1="219.90" x2="88.60" y2="223.10" stroke="#222" stroke-width="0.9" stroke-linecap="butt"/>
<line x1="91.28" y1="219.90" x2="91.28" y2="223.10" stroke="#222" stroke-width="0.9" stroke-linecap="butt"/>
<line x1="93.55" y1="219.90" x2="93.55" y2="223.10" stroke="#222" stroke-width="0.9" stroke-linecap="butt"/>
<line x1="95.51" y1="219.90" x2="95.51" y2="223.10" stroke="#222" stroke-width="0.9" stroke-linecap="butt"/>
<line x1="97.25" y1="219.90" x2="97.25" y2="223.10" stroke="#222" stroke-width="0.9" stroke-linecap="butt"/>
<text transform="translate(62.00,242.30) scale(0.52,1)" font-size="9.6" fill="#222" stroke="#222" stroke-width="0.5">10</text>
<text transform="translate(67.40,236.50) scale(0.68,1)" font-size="9.3" fill="#222" stroke="#222" stroke-width="0.4">1</text>
<line x1="98.80" y1="219.90" x2="98.80" y2="224.90" stroke="#111" stroke-width="1.4" stroke-linecap="butt"/>
<line x1="109.00" y1="219.90" x2="109.00" y2="223.10" stroke="#222" stroke-width="0.9" stroke-linecap="butt"/>
<line x1="114.97" y1="219.90" x2="114.97" y2="223.10" stroke="#222" stroke-width="0.9" stroke-linecap="butt"/>
<line x1="119.21" y1="219.90" x2="119.21" y2="223.10" stroke="#222" stroke-width="0.9" stroke-linecap="butt"/>
<line x1="122.50" y1="219.90" x2="122.50" y2="223.10" stroke="#222" stroke-width="0.9" stroke-linecap="butt"/>
<line x1="125.18" y1="219.90" x2="125.18" y2="223.10" stroke="#222" stroke-width="0.9" stroke-linecap="butt"/>
<line x1="127.45" y1="219.90" x2="127.45" y2="223.10" stroke="#222" stroke-width="0.9" stroke-linecap="butt"/>
<line x1="129.41" y1="219.90" x2="129.41" y2="223.10" stroke="#222" stroke-width="0.9" stroke-linecap="butt"/>
<line x1="131.15" y1="219.90" x2="131.15" y2="223.10" stroke="#222" stroke-width="0.9" stroke-linecap="butt"/>
<text transform="translate(95.90,242.30) scale(0.52,1)" font-size="9.6" fill="#222" stroke="#222" stroke-width="0.5">10</text>
<text transform="translate(101.30,236.50) scale(0.68,1)" font-size="9.3" fill="#222" stroke="#222" stroke-width="0.4">2</text>
<line x1="132.70" y1="219.90" x2="132.70" y2="224.90" stroke="#111" stroke-width="1.4" stroke-linecap="butt"/>
<line x1="142.90" y1="219.90" x2="142.90" y2="223.10" stroke="#222" stroke-width="0.9" stroke-linecap="butt"/>
<line x1="148.87" y1="219.90" x2="148.87" y2="223.10" stroke="#222" stroke-width="0.9" stroke-linecap="butt"/>
<line x1="153.11" y1="219.90" x2="153.11" y2="223.10" stroke="#222" stroke-width="0.9" stroke-linecap="butt"/>
<line x1="156.40" y1="219.90" x2="156.40" y2="223.10" stroke="#222" stroke-width="0.9" stroke-linecap="butt"/>
<line x1="159.08" y1="219.90" x2="159.08" y2="223.10" stroke="#222" stroke-width="0.9" stroke-linecap="butt"/>
<line x1="161.35" y1="219.90" x2="161.35" y2="223.10" stroke="#222" stroke-width="0.9" stroke-linecap="butt"/>
<line x1="163.31" y1="219.90" x2="163.31" y2="223.10" stroke="#222" stroke-width="0.9" stroke-linecap="butt"/>
<line x1="165.05" y1="219.90" x2="165.05" y2="223.10" stroke="#222" stroke-width="0.9" stroke-linecap="butt"/>
<text transform="translate(129.80,242.30) scale(0.52,1)" font-size="9.6" fill="#222" stroke="#222" stroke-width="0.5">10</text>
<text transform="translate(135.20,236.50) scale(0.68,1)" font-size="9.3" fill="#222" stroke="#222" stroke-width="0.4">3</text>
<line x1="166.60" y1="219.90" x2="166.60" y2="224.90" stroke="#111" stroke-width="1.4" stroke-linecap="butt"/>
<path d="M174.8,66.5 L174.8,58.7 L175.6,60.2 L176.4,59.1 L177.2,57.7 L178.0,55.6 L178.8,56.0 L179.6,56.5 L180.4,55.0 L181.2,51.6 L182.0,48.0 L182.8,45.8 L183.6,45.8 L184.4,45.4 L185.2,41.8 L186.0,40.9 L186.8,42.0 L187.6,42.8 L188.4,40.1 L189.2,39.1 L190.0,38.3 L190.8,38.5 L191.6,39.9 L192.4,33.8 L193.2,35.0 L194.0,37.6 L194.8,40.4 L195.6,41.7 L196.4,44.5 L197.2,47.5 L198.0,51.1 L198.8,53.7 L199.6,55.9 L200.4,59.5 L201.2,59.2 L202.0,60.7 L202.8,61.6 L203.6,62.7 L204.4,64.0 L205.2,64.7 L206.0,64.9 L206.8,65.3 L207.6,65.7 L208.4,65.8 L209.2,65.9 L210.0,66.0 L210.8,66.2 L211.6,66.3 L212.4,66.3 L213.2,66.3 L214.0,66.2 L214.8,66.3 L215.6,66.2 L216.4,66.3 L217.2,66.3 L218.0,66.3 L218.8,66.2 L219.6,66.3 L220.4,66.3 L221.2,66.3 L222.0,66.3 L222.8,66.3 L223.6,66.3 L224.4,66.3 L225.2,66.3 L226.0,66.1 L226.8,66.0 L227.6,66.2 L228.4,66.3 L229.2,66.1 L230.0,66.3 L230.8,66.3 L231.6,66.3 L232.4,66.2 L233.2,66.3 L234.0,66.3 L234.8,66.3 L235.6,66.3 L236.4,66.3 L237.2,66.2 L238.0,66.3 L238.8,66.3 L239.6,66.3 L240.4,66.3 L241.2,66.3 L242.0,66.1 L242.8,66.3 L243.6,66.3 L244.4,66.3 L245.2,66.3 L246.0,66.3 L246.8,66.3 L247.6,66.3 L248.4,66.3 L249.2,66.2 L250.0,66.2 L250.8,66.3 L251.6,66.3 L252.4,66.1 L253.2,66.2 L254.0,66.3 L254.8,66.3 L255.6,66.3 L256.4,66.3 L257.2,66.3 L258.0,66.3 L258.8,66.3 L259.6,66.3 L260.4,66.2 L261.2,66.3 L262.0,66.3 L262.8,66.3 L263.6,66.3 L264.4,66.2 L265.2,66.2 L266.0,66.3 L266.8,66.2 L267.6,66.3 L268.4,66.3 L269.2,66.3 L270.0,66.3 L270.8,66.3 L271.6,66.3 L272.4,66.3 L273.2,66.2 L274.0,66.3 L274.8,66.3 L275.6,66.3 L276.4,66.3 L277.2,66.3 L278.0,66.2 L278.8,66.2 L279.6,66.2 L280.4,66.3 L281.2,66.2 L282.0,66.3 L282.8,66.3 L283.6,66.3 L284.4,66.3 L285.2,66.3 L286.0,66.3 L286.8,66.3 L287.6,66.3 L288.4,66.3 L289.2,66.3 L290.0,66.3 L290.8,66.1 L291.6,66.2 L292.4,66.2 L293.2,66.3 L294.0,66.3 L294.8,66.3 L295.6,66.3 L296.4,66.3 L297.2,66.3 L298.0,66.3 L298.8,66.3 L299.6,66.3 L300.4,66.1 L301.2,66.3 L302.0,66.3 L302.8,66.3 L303.6,66.3 L304.4,66.3 L305.2,66.3 L306.0,66.3 L306.8,66.3 L307.6,66.3 L308.4,66.3 L309.2,66.3 L310.0,66.2 L310.8,66.3 L311.6,66.3 L312.4,66.3 L312.8,66.5 Z" fill="#999999" stroke="none"/>
<path d="M174.8,58.7 L175.6,60.2 L176.4,59.1 L177.2,57.7 L178.0,55.6 L178.8,56.0 L179.6,56.5 L180.4,55.0 L181.2,51.6 L182.0,48.0 L182.8,45.8 L183.6,45.8 L184.4,45.4 L185.2,41.8 L186.0,40.9 L186.8,42.0 L187.6,42.8 L188.4,40.1 L189.2,39.1 L190.0,38.3 L190.8,38.5 L191.6,39.9 L192.4,33.8 L193.2,35.0 L194.0,37.6 L194.8,40.4 L195.6,41.7 L196.4,44.5 L197.2,47.5 L198.0,51.1 L198.8,53.7 L199.6,55.9 L200.4,59.5 L201.2,59.2 L202.0,60.7 L202.8,61.6 L203.6,62.7 L204.4,64.0 L205.2,64.7 L206.0,64.9 L206.8,65.3 L207.6,65.7 L208.4,65.8 L209.2,65.9 L210.0,66.0 L210.8,66.2 L211.6,66.3 L212.4,66.3 L213.2,66.3 L214.0,66.2 L214.8,66.3 L215.6,66.2 L216.4,66.3 L217.2,66.3 L218.0,66.3 L218.8,66.2 L219.6,66.3 L220.4,66.3 L221.2,66.3 L222.0,66.3 L222.8,66.3 L223.6,66.3 L224.4,66.3 L225.2,66.3 L226.0,66.1 L226.8,66.0 L227.6,66.2 L228.4,66.3 L229.2,66.1 L230.0,66.3 L230.8,66.3 L231.6,66.3 L232.4,66.2 L233.2,66.3 L234.0,66.3 L234.8,66.3 L235.6,66.3 L236.4,66.3 L237.2,66.2 L238.0,66.3 L238.8,66.3 L239.6,66.3 L240.4,66.3 L241.2,66.3 L242.0,66.1 L242.8,66.3 L243.6,66.3 L244.4,66.3 L245.2,66.3 L246.0,66.3 L246.8,66.3 L247.6,66.3 L248.4,66.3 L249.2,66.2 L250.0,66.2 L250.8,66.3 L251.6,66.3 L252.4,66.1 L253.2,66.2 L254.0,66.3 L254.8,66.3 L255.6,66.3 L256.4,66.3 L257.2,66.3 L258.0,66.3 L258.8,66.3 L259.6,66.3 L260.4,66.2 L261.2,66.3 L262.0,66.3 L262.8,66.3 L263.6,66.3 L264.4,66.2 L265.2,66.2 L266.0,66.3 L266.8,66.2 L267.6,66.3 L268.4,66.3 L269.2,66.3 L270.0,66.3 L270.8,66.3 L271.6,66.3 L272.4,66.3 L273.2,66.2 L274.0,66.3 L274.8,66.3 L275.6,66.3 L276.4,66.3 L277.2,66.3 L278.0,66.2 L278.8,66.2 L279.6,66.2 L280.4,66.3 L281.2,66.2 L282.0,66.3 L282.8,66.3 L283.6,66.3 L284.4,66.3 L285.2,66.3 L286.0,66.3 L286.8,66.3 L287.6,66.3 L288.4,66.3 L289.2,66.3 L290.0,66.3 L290.8,66.1 L291.6,66.2 L292.4,66.2 L293.2,66.3 L294.0,66.3 L294.8,66.3 L295.6,66.3 L296.4,66.3 L297.2,66.3 L298.0,66.3 L298.8,66.3 L299.6,66.3 L300.4,66.1 L301.2,66.3 L302.0,66.3 L302.8,66.3 L303.6,66.3 L304.4,66.3 L305.2,66.3 L306.0,66.3 L306.8,66.3 L307.6,66.3 L308.4,66.3 L309.2,66.3 L310.0,66.2 L310.8,66.3 L311.6,66.3 L312.4,66.3" fill="none" stroke="#0a0a0a" stroke-width="1.7" stroke-linejoin="round"/>
<path d="M174.8,105.3 L174.8,97.7 L175.6,96.7 L176.4,94.7 L177.2,92.3 L178.0,91.6 L178.8,89.9 L179.6,89.2 L180.4,85.8 L181.2,84.8 L182.0,81.4 L182.8,79.9 L183.6,77.9 L184.4,74.5 L185.2,72.1 L186.0,69.8 L186.8,68.0 L187.6,68.1 L188.4,69.8 L189.2,69.3 L190.0,73.4 L190.8,74.4 L191.6,75.1 L192.4,81.4 L193.2,84.1 L194.0,86.8 L194.8,91.4 L195.6,95.0 L196.4,97.3 L197.2,100.2 L198.0,101.4 L198.8,102.8 L199.6,103.7 L200.4,103.5 L201.2,104.0 L202.0,104.0 L202.8,104.1 L203.6,104.6 L204.4,104.8 L205.2,105.0 L206.0,104.9 L206.8,104.9 L207.6,104.9 L208.4,105.1 L209.2,105.1 L210.0,105.0 L210.8,105.1 L211.6,105.1 L212.4,105.0 L213.2,105.1 L214.0,105.1 L214.8,105.0 L215.6,105.1 L216.4,105.1 L217.2,105.1 L218.0,104.9 L218.8,104.8 L219.6,105.1 L220.4,105.0 L221.2,105.0 L222.0,105.1 L222.8,105.1 L223.6,105.0 L224.4,105.1 L225.2,105.1 L226.0,105.1 L226.8,105.1 L227.6,105.1 L228.4,105.1 L229.2,105.1 L230.0,105.1 L230.8,105.0 L231.6,105.0 L232.4,105.1 L233.2,105.1 L234.0,105.1 L234.8,105.1 L235.6,105.0 L236.4,105.1 L237.2,105.1 L238.0,105.1 L238.8,105.1 L239.6,105.0 L240.4,105.1 L241.2,105.1 L242.0,105.1 L242.8,105.1 L243.6,105.1 L244.4,105.0 L245.2,105.1 L246.0,105.1 L246.8,105.1 L247.6,105.1 L248.4,105.1 L249.2,105.1 L250.0,105.1 L250.8,105.0 L251.6,105.1 L252.4,104.9 L253.2,105.1 L254.0,105.1 L254.8,105.1 L255.6,105.1 L256.4,105.1 L257.2,105.1 L258.0,105.1 L258.8,105.1 L259.6,105.1 L260.4,105.1 L261.2,105.1 L262.0,105.0 L262.8,105.1 L263.6,105.0 L264.4,105.0 L265.2,105.1 L266.0,105.0 L266.8,105.1 L267.6,105.1 L268.4,105.1 L269.2,105.1 L270.0,105.1 L270.8,104.9 L271.6,105.1 L272.4,105.1 L273.2,105.1 L274.0,105.1 L274.8,105.1 L275.6,105.1 L276.4,105.1 L277.2,105.1 L278.0,105.1 L278.8,105.1 L279.6,105.1 L280.4,105.1 L281.2,105.1 L282.0,105.1 L282.8,105.1 L283.6,105.1 L284.4,104.9 L285.2,105.1 L286.0,105.0 L286.8,105.0 L287.6,105.1 L288.4,105.1 L289.2,105.1 L290.0,105.1 L290.8,105.0 L291.6,105.1 L292.4,105.1 L293.2,105.1 L294.0,105.1 L294.8,105.1 L295.6,105.1 L296.4,105.1 L297.2,105.1 L298.0,105.0 L298.8,105.1 L299.6,105.1 L300.4,105.1 L301.2,105.1 L302.0,105.1 L302.8,105.1 L303.6,105.1 L304.4,105.1 L305.2,105.1 L306.0,105.1 L306.8,105.1 L307.6,105.1 L308.4,105.1 L309.2,105.1 L310.0,105.1 L310.8,105.1 L311.6,105.1 L312.4,105.0 L312.8,105.3 Z" fill="#b2b2b2" stroke="none"/>
<path d="M174.8,97.7 L175.6,96.7 L176.4,94.7 L177.2,92.3 L178.0,91.6 L178.8,89.9 L179.6,89.2 L180.4,85.8 L181.2,84.8 L182.0,81.4 L182.8,79.9 L183.6,77.9 L184.4,74.5 L185.2,72.1 L186.0,69.8 L186.8,68.0 L187.6,68.1 L188.4,69.8 L189.2,69.3 L190.0,73.4 L190.8,74.4 L191.6,75.1 L192.4,81.4 L193.2,84.1 L194.0,86.8 L194.8,91.4 L195.6,95.0 L196.4,97.3 L197.2,100.2 L198.0,101.4 L198.8,102.8 L199.6,103.7 L200.4,103.5 L201.2,104.0 L202.0,104.0 L202.8,104.1 L203.6,104.6 L204.4,104.8 L205.2,105.0 L206.0,104.9 L206.8,104.9 L207.6,104.9 L208.4,105.1 L209.2,105.1 L210.0,105.0 L210.8,105.1 L211.6,105.1 L212.4,105.0 L213.2,105.1 L214.0,105.1 L214.8,105.0 L215.6,105.1 L216.4,105.1 L217.2,105.1 L218.0,104.9 L218.8,104.8 L219.6,105.1 L220.4,105.0 L221.2,105.0 L222.0,105.1 L222.8,105.1 L223.6,105.0 L224.4,105.1 L225.2,105.1 L226.0,105.1 L226.8,105.1 L227.6,105.1 L228.4,105.1 L229.2,105.1 L230.0,105.1 L230.8,105.0 L231.6,105.0 L232.4,105.1 L233.2,105.1 L234.0,105.1 L234.8,105.1 L235.6,105.0 L236.4,105.1 L237.2,105.1 L238.0,105.1 L238.8,105.1 L239.6,105.0 L240.4,105.1 L241.2,105.1 L242.0,105.1 L242.8,105.1 L243.6,105.1 L244.4,105.0 L245.2,105.1 L246.0,105.1 L246.8,105.1 L247.6,105.1 L248.4,105.1 L249.2,105.1 L250.0,105.1 L250.8,105.0 L251.6,105.1 L252.4,104.9 L253.2,105.1 L254.0,105.1 L254.8,105.1 L255.6,105.1 L256.4,105.1 L257.2,105.1 L258.0,105.1 L258.8,105.1 L259.6,105.1 L260.4,105.1 L261.2,105.1 L262.0,105.0 L262.8,105.1 L263.6,105.0 L264.4,105.0 L265.2,105.1 L266.0,105.0 L266.8,105.1 L267.6,105.1 L268.4,105.1 L269.2,105.1 L270.0,105.1 L270.8,104.9 L271.6,105.1 L272.4,105.1 L273.2,105.1 L274.0,105.1 L274.8,105.1 L275.6,105.1 L276.4,105.1 L277.2,105.1 L278.0,105.1 L278.8,105.1 L279.6,105.1 L280.4,105.1 L281.2,105.1 L282.0,105.1 L282.8,105.1 L283.6,105.1 L284.4,104.9 L285.2,105.1 L286.0,105.0 L286.8,105.0 L287.6,105.1 L288.4,105.1 L289.2,105.1 L290.0,105.1 L290.8,105.0 L291.6,105.1 L292.4,105.1 L293.2,105.1 L294.0,105.1 L294.8,105.1 L295.6,105.1 L296.4,105.1 L297.2,105.1 L298.0,105.0 L298.8,105.1 L299.6,105.1 L300.4,105.1 L301.2,105.1 L302.0,105.1 L302.8,105.1 L303.6,105.1 L304.4,105.1 L305.2,105.1 L306.0,105.1 L306.8,105.1 L307.6,105.1 L308.4,105.1 L309.2,105.1 L310.0,105.1 L310.8,105.1 L311.6,105.1 L312.4,105.0" fill="none" stroke="#0a0a0a" stroke-width="1.7" stroke-linejoin="round"/>
<path d="M174.8,144.1 L174.8,140.3 L175.6,138.4 L176.4,139.7 L177.2,137.5 L178.0,137.7 L178.8,134.4 L179.6,133.4 L180.4,132.6 L181.2,132.6 L182.0,131.3 L182.8,127.4 L183.6,126.4 L184.4,122.7 L185.2,123.6 L186.0,117.9 L186.8,114.5 L187.6,115.6 L188.4,110.8 L189.2,110.1 L190.0,112.3 L190.8,116.4 L191.6,116.1 L192.4,120.4 L193.2,122.6 L194.0,128.4 L194.8,131.1 L195.6,131.4 L196.4,135.7 L197.2,136.3 L198.0,136.5 L198.8,137.5 L199.6,139.5 L200.4,137.8 L201.2,140.1 L202.0,139.7 L202.8,140.1 L203.6,141.2 L204.4,141.2 L205.2,143.1 L206.0,142.3 L206.8,142.6 L207.6,142.8 L208.4,142.4 L209.2,141.8 L210.0,141.6 L210.8,142.1 L211.6,141.2 L212.4,140.8 L213.2,141.2 L214.0,140.9 L214.8,142.2 L215.6,141.6 L216.4,140.4 L217.2,141.2 L218.0,139.8 L218.8,139.4 L219.6,140.7 L220.4,140.8 L221.2,140.3 L222.0,140.1 L222.8,139.9 L223.6,140.5 L224.4,140.4 L225.2,141.1 L226.0,140.4 L226.8,140.9 L227.6,139.9 L228.4,140.0 L229.2,141.2 L230.0,140.1 L230.8,140.8 L231.6,139.6 L232.4,140.7 L233.2,139.3 L234.0,139.3 L234.8,138.7 L235.6,139.6 L236.4,139.7 L237.2,139.0 L238.0,140.4 L238.8,139.6 L239.6,139.7 L240.4,139.5 L241.2,140.5 L242.0,140.7 L242.8,140.8 L243.6,139.1 L244.4,140.3 L245.2,139.8 L246.0,140.4 L246.8,140.6 L247.6,139.8 L248.4,141.8 L249.2,140.6 L250.0,140.8 L250.8,140.9 L251.6,141.2 L252.4,141.1 L253.2,140.9 L254.0,139.5 L254.8,140.5 L255.6,140.3 L256.4,140.3 L257.2,140.0 L258.0,139.9 L258.8,140.5 L259.6,140.7 L260.4,140.6 L261.2,141.4 L262.0,141.0 L262.8,140.4 L263.6,141.7 L264.4,141.9 L265.2,142.4 L266.0,141.8 L266.8,141.7 L267.6,142.3 L268.4,142.4 L269.2,141.9 L270.0,142.5 L270.8,142.4 L271.6,142.9 L272.4,142.5 L273.2,142.9 L274.0,143.1 L274.8,143.3 L275.6,143.0 L276.4,143.5 L277.2,143.6 L278.0,143.9 L278.8,143.6 L279.6,143.8 L280.4,143.8 L281.2,144.0 L282.0,143.9 L282.8,144.0 L283.6,144.0 L284.4,144.0 L285.2,144.0 L286.0,144.0 L286.8,144.0 L287.6,143.9 L288.4,144.0 L289.2,144.0 L290.0,143.9 L290.8,144.0 L291.6,143.9 L292.4,143.9 L293.2,143.9 L294.0,144.0 L294.8,143.9 L295.6,143.9 L296.4,144.0 L297.2,143.9 L298.0,144.0 L298.8,144.0 L299.6,144.0 L300.4,144.0 L301.2,143.9 L302.0,144.0 L302.8,143.8 L303.6,144.0 L304.4,144.0 L305.2,143.9 L306.0,144.0 L306.8,144.0 L307.6,144.0 L308.4,144.0 L309.2,143.9 L310.0,144.0 L310.8,144.0 L311.6,144.0 L312.4,144.0 L312.8,144.1 Z" fill="#787878" stroke="none"/>
<path d="M174.8,140.3 L175.6,138.4 L176.4,139.7 L177.2,137.5 L178.0,137.7 L178.8,134.4 L179.6,133.4 L180.4,132.6 L181.2,132.6 L182.0,131.3 L182.8,127.4 L183.6,126.4 L184.4,122.7 L185.2,123.6 L186.0,117.9 L186.8,114.5 L187.6,115.6 L188.4,110.8 L189.2,110.1 L190.0,112.3 L190.8,116.4 L191.6,116.1 L192.4,120.4 L193.2,122.6 L194.0,128.4 L194.8,131.1 L195.6,131.4 L196.4,135.7 L197.2,136.3 L198.0,136.5 L198.8,137.5 L199.6,139.5 L200.4,137.8 L201.2,140.1 L202.0,139.7 L202.8,140.1 L203.6,141.2 L204.4,141.2 L205.2,143.1 L206.0,142.3 L206.8,142.6 L207.6,142.8 L208.4,142.4 L209.2,141.8 L210.0,141.6 L210.8,142.1 L211.6,141.2 L212.4,140.8 L213.2,141.2 L214.0,140.9 L214.8,142.2 L215.6,141.6 L216.4,140.4 L217.2,141.2 L218.0,139.8 L218.8,139.4 L219.6,140.7 L220.4,140.8 L221.2,140.3 L222.0,140.1 L222.8,139.9 L223.6,140.5 L224.4,140.4 L225.2,141.1 L226.0,140.4 L226.8,140.9 L227.6,139.9 L228.4,140.0 L229.2,141.2 L230.0,140.1 L230.8,140.8 L231.6,139.6 L232.4,140.7 L233.2,139.3 L234.0,139.3 L234.8,138.7 L235.6,139.6 L236.4,139.7 L237.2,139.0 L238.0,140.4 L238.8,139.6 L239.6,139.7 L240.4,139.5 L241.2,140.5 L242.0,140.7 L242.8,140.8 L243.6,139.1 L244.4,140.3 L245.2,139.8 L246.0,140.4 L246.8,140.6 L247.6,139.8 L248.4,141.8 L249.2,140.6 L250.0,140.8 L250.8,140.9 L251.6,141.2 L252.4,141.1 L253.2,140.9 L254.0,139.5 L254.8,140.5 L255.6,140.3 L256.4,140.3 L257.2,140.0 L258.0,139.9 L258.8,140.5 L259.6,140.7 L260.4,140.6 L261.2,141.4 L262.0,141.0 L262.8,140.4 L263.6,141.7 L264.4,141.9 L265.2,142.4 L266.0,141.8 L266.8,141.7 L267.6,142.3 L268.4,142.4 L269.2,141.9 L270.0,142.5 L270.8,142.4 L271.6,142.9 L272.4,142.5 L273.2,142.9 L274.0,143.1 L274.8,143.3 L275.6,143.0 L276.4,143.5 L277.2,143.6 L278.0,143.9 L278.8,143.6 L279.6,143.8 L280.4,143.8 L281.2,144.0 L282.0,143.9 L282.8,144.0 L283.6,144.0 L284.4,144.0 L285.2,144.0 L286.0,144.0 L286.8,144.0 L287.6,143.9 L288.4,144.0 L289.2,144.0 L290.0,143.9 L290.8,144.0 L291.6,143.9 L292.4,143.9 L293.2,143.9 L294.0,144.0 L294.8,143.9 L295.6,143.9 L296.4,144.0 L297.2,143.9 L298.0,144.0 L298.8,144.0 L299.6,144.0 L300.4,144.0 L301.2,143.9 L302.0,144.0 L302.8,143.8 L303.6,144.0 L304.4,144.0 L305.2,143.9 L306.0,144.0 L306.8,144.0 L307.6,144.0 L308.4,144.0 L309.2,143.9 L310.0,144.0 L310.8,144.0 L311.6,144.0 L312.4,144.0" fill="none" stroke="#0a0a0a" stroke-width="1.7" stroke-linejoin="round"/>
<path d="M174.8,182.5 L174.8,178.2 L175.6,176.5 L176.4,176.4 L177.2,175.2 L178.0,173.7 L178.8,172.1 L179.6,171.5 L180.4,169.3 L181.2,167.6 L182.0,165.5 L182.8,165.1 L183.6,160.6 L184.4,158.6 L185.2,158.9 L186.0,156.3 L186.8,153.1 L187.6,151.6 L188.4,149.2 L189.2,147.8 L190.0,148.4 L190.8,148.2 L191.6,147.3 L192.4,147.8 L193.2,147.7 L194.0,149.7 L194.8,152.3 L195.6,155.8 L196.4,157.1 L197.2,161.7 L198.0,163.6 L198.8,165.9 L199.6,169.5 L200.4,171.8 L201.2,175.0 L202.0,176.9 L202.8,177.7 L203.6,178.7 L204.4,179.7 L205.2,180.1 L206.0,180.6 L206.8,181.2 L207.6,181.7 L208.4,182.0 L209.2,182.1 L210.0,182.1 L210.8,182.3 L211.6,182.1 L212.4,182.2 L213.2,182.3 L214.0,182.3 L214.8,182.2 L215.6,182.3 L216.4,182.3 L217.2,182.2 L218.0,182.3 L218.8,182.3 L219.6,182.3 L220.4,182.2 L221.2,182.3 L222.0,182.2 L222.8,182.3 L223.6,182.3 L224.4,182.3 L225.2,182.2 L226.0,182.3 L226.8,182.3 L227.6,182.3 L228.4,182.3 L229.2,182.3 L230.0,182.1 L230.8,182.3 L231.6,182.2 L232.4,182.3 L233.2,182.3 L234.0,182.3 L234.8,182.2 L235.6,182.3 L236.4,182.3 L237.2,182.2 L238.0,182.1 L238.8,182.3 L239.6,182.2 L240.4,182.3 L241.2,182.3 L242.0,182.3 L242.8,182.2 L243.6,182.3 L244.4,182.3 L245.2,182.3 L246.0,182.3 L246.8,182.3 L247.6,182.3 L248.4,182.3 L249.2,182.2 L250.0,182.3 L250.8,182.3 L251.6,182.1 L252.4,182.3 L253.2,182.2 L254.0,182.3 L254.8,182.3 L255.6,182.3 L256.4,182.3 L257.2,182.3 L258.0,182.3 L258.8,182.3 L259.6,182.3 L260.4,182.2 L261.2,182.3 L262.0,182.3 L262.8,182.2 L263.6,182.3 L264.4,182.3 L265.2,182.3 L266.0,182.3 L266.8,182.3 L267.6,182.2 L268.4,182.2 L269.2,182.2 L270.0,182.3 L270.8,182.3 L271.6,182.3 L272.4,182.3 L273.2,182.3 L274.0,182.3 L274.8,182.3 L275.6,182.3 L276.4,182.3 L277.2,182.3 L278.0,182.3 L278.8,182.2 L279.6,182.3 L280.4,182.3 L281.2,182.2 L282.0,182.3 L282.8,182.1 L283.6,182.3 L284.4,182.3 L285.2,182.2 L286.0,182.3 L286.8,182.3 L287.6,182.3 L288.4,182.3 L289.2,182.3 L290.0,182.3 L290.8,182.3 L291.6,182.3 L292.4,182.3 L293.2,182.3 L294.0,182.3 L294.8,182.3 L295.6,182.3 L296.4,182.3 L297.2,182.3 L298.0,182.3 L298.8,182.3 L299.6,182.3 L300.4,182.3 L301.2,182.3 L302.0,182.1 L302.8,182.3 L303.6,182.3 L304.4,182.2 L305.2,182.2 L306.0,182.3 L306.8,182.3 L307.6,182.3 L308.4,182.3 L309.2,182.3 L310.0,182.3 L310.8,182.3 L311.6,182.3 L312.4,182.3 L312.8,182.5 Z" fill="#202020" stroke="none"/>
<path d="M174.8,178.2 L175.6,176.5 L176.4,176.4 L177.2,175.2 L178.0,173.7 L178.8,172.1 L179.6,171.5 L180.4,169.3 L181.2,167.6 L182.0,165.5 L182.8,165.1 L183.6,160.6 L184.4,158.6 L185.2,158.9 L186.0,156.3 L186.8,153.1 L187.6,151.6 L188.4,149.2 L189.2,147.8 L190.0,148.4 L190.8,148.2 L191.6,147.3 L192.4,147.8 L193.2,147.7 L194.0,149.7 L194.8,152.3 L195.6,155.8 L196.4,157.1 L197.2,161.7 L198.0,163.6 L198.8,165.9 L199.6,169.5 L200.4,171.8 L201.2,175.0 L202.0,176.9 L202.8,177.7 L203.6,178.7 L204.4,179.7 L205.2,180.1 L206.0,180.6 L206.8,181.2 L207.6,181.7 L208.4,182.0 L209.2,182.1 L210.0,182.1 L210.8,182.3 L211.6,182.1 L212.4,182.2 L213.2,182.3 L214.0,182.3 L214.8,182.2 L215.6,182.3 L216.4,182.3 L217.2,182.2 L218.0,182.3 L218.8,182.3 L219.6,182.3 L220.4,182.2 L221.2,182.3 L222.0,182.2 L222.8,182.3 L223.6,182.3 L224.4,182.3 L225.2,182.2 L226.0,182.3 L226.8,182.3 L227.6,182.3 L228.4,182.3 L229.2,182.3 L230.0,182.1 L230.8,182.3 L231.6,182.2 L232.4,182.3 L233.2,182.3 L234.0,182.3 L234.8,182.2 L235.6,182.3 L236.4,182.3 L237.2,182.2 L238.0,182.1 L238.8,182.3 L239.6,182.2 L240.4,182.3 L241.2,182.3 L242.0,182.3 L242.8,182.2 L243.6,182.3 L244.4,182.3 L245.2,182.3 L246.0,182.3 L246.8,182.3 L247.6,182.3 L248.4,182.3 L249.2,182.2 L250.0,182.3 L250.8,182.3 L251.6,182.1 L252.4,182.3 L253.2,182.2 L254.0,182.3 L254.8,182.3 L255.6,182.3 L256.4,182.3 L257.2,182.3 L258.0,182.3 L258.8,182.3 L259.6,182.3 L260.4,182.2 L261.2,182.3 L262.0,182.3 L262.8,182.2 L263.6,182.3 L264.4,182.3 L265.2,182.3 L266.0,182.3 L266.8,182.3 L267.6,182.2 L268.4,182.2 L269.2,182.2 L270.0,182.3 L270.8,182.3 L271.6,182.3 L272.4,182.3 L273.2,182.3 L274.0,182.3 L274.8,182.3 L275.6,182.3 L276.4,182.3 L277.2,182.3 L278.0,182.3 L278.8,182.2 L279.6,182.3 L280.4,182.3 L281.2,182.2 L282.0,182.3 L282.8,182.1 L283.6,182.3 L284.4,182.3 L285.2,182.2 L286.0,182.3 L286.8,182.3 L287.6,182.3 L288.4,182.3 L289.2,182.3 L290.0,182.3 L290.8,182.3 L291.6,182.3 L292.4,182.3 L293.2,182.3 L294.0,182.3 L294.8,182.3 L295.6,182.3 L296.4,182.3 L297.2,182.3 L298.0,182.3 L298.8,182.3 L299.6,182.3 L300.4,182.3 L301.2,182.3 L302.0,182.1 L302.8,182.3 L303.6,182.3 L304.4,182.2 L305.2,182.2 L306.0,182.3 L306.8,182.3 L307.6,182.3 L308.4,182.3 L309.2,182.3 L310.0,182.3 L310.8,182.3 L311.6,182.3 L312.4,182.3" fill="none" stroke="#0a0a0a" stroke-width="1.7" stroke-linejoin="round"/>
<path d="M174.8,221.1 L174.8,219.6 L175.6,218.8 L176.4,217.4 L177.2,217.7 L178.0,217.3 L178.8,217.7 L179.6,215.8 L180.4,213.9 L181.2,213.9 L182.0,212.2 L182.8,213.4 L183.6,209.2 L184.4,208.2 L185.2,206.5 L186.0,204.0 L186.8,198.0 L187.6,196.3 L188.4,195.0 L189.2,192.3 L190.0,188.2 L190.8,190.2 L191.6,185.4 L192.4,186.5 L193.2,187.7 L194.0,186.8 L194.8,189.6 L195.6,190.3 L196.4,189.5 L197.2,190.1 L198.0,191.1 L198.8,194.1 L199.6,195.9 L200.4,195.8 L201.2,201.2 L202.0,205.4 L202.8,199.5 L203.6,204.5 L204.4,206.4 L205.2,207.0 L206.0,209.1 L206.8,210.5 L207.6,213.0 L208.4,214.8 L209.2,214.8 L210.0,215.1 L210.8,214.9 L211.6,218.4 L212.4,212.4 L213.2,214.7 L214.0,215.9 L214.8,214.0 L215.6,216.2 L216.4,215.5 L217.2,217.0 L218.0,217.4 L218.8,215.2 L219.6,216.0 L220.4,217.5 L221.2,215.2 L222.0,214.9 L222.8,215.9 L223.6,214.7 L224.4,213.9 L225.2,213.8 L226.0,214.2 L226.8,213.8 L227.6,212.7 L228.4,214.0 L229.2,214.3 L230.0,214.1 L230.8,209.8 L231.6,214.6 L232.4,213.2 L233.2,215.2 L234.0,212.8 L234.8,213.1 L235.6,213.1 L236.4,212.2 L237.2,211.5 L238.0,213.1 L238.8,214.5 L239.6,214.1 L240.4,213.0 L241.2,213.5 L242.0,212.3 L242.8,211.1 L243.6,211.1 L244.4,208.2 L245.2,212.8 L246.0,209.8 L246.8,207.9 L247.6,210.5 L248.4,210.9 L249.2,204.5 L250.0,205.7 L250.8,206.1 L251.6,204.8 L252.4,208.1 L253.2,208.1 L254.0,203.3 L254.8,205.4 L255.6,208.2 L256.4,206.1 L257.2,203.6 L258.0,208.4 L258.8,209.6 L259.6,211.1 L260.4,208.1 L261.2,208.3 L262.0,209.5 L262.8,209.6 L263.6,209.5 L264.4,210.3 L265.2,210.5 L266.0,208.6 L266.8,210.2 L267.6,209.7 L268.4,213.2 L269.2,212.2 L270.0,209.7 L270.8,211.2 L271.6,210.2 L272.4,213.7 L273.2,211.2 L274.0,213.1 L274.8,212.7 L275.6,213.9 L276.4,214.5 L277.2,215.0 L278.0,214.2 L278.8,213.4 L279.6,216.3 L280.4,216.5 L281.2,217.5 L282.0,217.9 L282.8,217.2 L283.6,218.4 L284.4,219.0 L285.2,218.2 L286.0,218.8 L286.8,219.2 L287.6,219.6 L288.4,220.2 L289.2,219.9 L290.0,220.3 L290.8,220.3 L291.6,220.5 L292.4,220.5 L293.2,220.8 L294.0,220.7 L294.8,220.9 L295.6,220.8 L296.4,220.8 L297.2,220.8 L298.0,220.9 L298.8,220.7 L299.6,220.9 L300.4,220.9 L301.2,220.7 L302.0,220.9 L302.8,220.7 L303.6,220.9 L304.4,220.8 L305.2,220.8 L306.0,220.8 L306.8,220.9 L307.6,220.8 L308.4,220.9 L309.2,220.7 L310.0,220.9 L310.8,220.9 L311.6,220.8 L312.4,220.9 L312.8,221.1 Z" fill="#eeeeee" stroke="none"/>
<path d="M174.8,219.6 L175.6,218.8 L176.4,217.4 L177.2,217.7 L178.0,217.3 L178.8,217.7 L179.6,215.8 L180.4,213.9 L181.2,213.9 L182.0,212.2 L182.8,213.4 L183.6,209.2 L184.4,208.2 L185.2,206.5 L186.0,204.0 L186.8,198.0 L187.6,196.3 L188.4,195.0 L189.2,192.3 L190.0,188.2 L190.8,190.2 L191.6,185.4 L192.4,186.5 L193.2,187.7 L194.0,186.8 L194.8,189.6 L195.6,190.3 L196.4,189.5 L197.2,190.1 L198.0,191.1 L198.8,194.1 L199.6,195.9 L200.4,195.8 L201.2,201.2 L202.0,205.4 L202.8,199.5 L203.6,204.5 L204.4,206.4 L205.2,207.0 L206.0,209.1 L206.8,210.5 L207.6,213.0 L208.4,214.8 L209.2,214.8 L210.0,215.1 L210.8,214.9 L211.6,218.4 L212.4,212.4 L213.2,214.7 L214.0,215.9 L214.8,214.0 L215.6,216.2 L216.4,215.5 L217.2,217.0 L218.0,217.4 L218.8,215.2 L219.6,216.0 L220.4,217.5 L221.2,215.2 L222.0,214.9 L222.8,215.9 L223.6,214.7 L224.4,213.9 L225.2,213.8 L226.0,214.2 L226.8,213.8 L227.6,212.7 L228.4,214.0 L229.2,214.3 L230.0,214.1 L230.8,209.8 L231.6,214.6 L232.4,213.2 L233.2,215.2 L234.0,212.8 L234.8,213.1 L235.6,213.1 L236.4,212.2 L237.2,211.5 L238.0,213.1 L238.8,214.5 L239.6,214.1 L240.4,213.0 L241.2,213.5 L242.0,212.3 L242.8,211.1 L243.6,211.1 L244.4,208.2 L245.2,212.8 L246.0,209.8 L246.8,207.9 L247.6,210.5 L248.4,210.9 L249.2,204.5 L250.0,205.7 L250.8,206.1 L251.6,204.8 L252.4,208.1 L253.2,208.1 L254.0,203.3 L254.8,205.4 L255.6,208.2 L256.4,206.1 L257.2,203.6 L258.0,208.4 L258.8,209.6 L259.6,211.1 L260.4,208.1 L261.2,208.3 L262.0,209.5 L262.8,209.6 L263.6,209.5 L264.4,210.3 L265.2,210.5 L266.0,208.6 L266.8,210.2 L267.6,209.7 L268.4,213.2 L269.2,212.2 L270.0,209.7 L270.8,211.2 L271.6,210.2 L272.4,213.7 L273.2,211.2 L274.0,213.1 L274.8,212.7 L275.6,213.9 L276.4,214.5 L277.2,215.0 L278.0,214.2 L278.8,213.4 L279.6,216.3 L280.4,216.5 L281.2,217.5 L282.0,217.9 L282.8,217.2 L283.6,218.4 L284.4,219.0 L285.2,218.2 L286.0,218.8 L286.8,219.2 L287.6,219.6 L288.4,220.2 L289.2,219.9 L290.0,220.3 L290.8,220.3 L291.6,220.5 L292.4,220.5 L293.2,220.8 L294.0,220.7 L294.8,220.9 L295.6,220.8 L296.4,220.8 L297.2,220.8 L298.0,220.9 L298.8,220.7 L299.6,220.9 L300.4,220.9 L301.2,220.7 L302.0,220.9 L302.8,220.7 L303.6,220.9 L304.4,220.8 L305.2,220.8 L306.0,220.8 L306.8,220.9 L307.6,220.8 L308.4,220.9 L309.2,220.7 L310.0,220.9 L310.8,220.9 L311.6,220.8 L312.4,220.9" fill="none" stroke="#0a0a0a" stroke-width="2.0" stroke-linejoin="round"/>
<line x1="174.30" y1="66.70" x2="313.30" y2="66.70" stroke="#0c0c0c" stroke-width="1.6" stroke-linecap="butt"/>
<line x1="174.30" y1="105.50" x2="313.30" y2="105.50" stroke="#0c0c0c" stroke-width="1.6" stroke-linecap="butt"/>
<line x1="174.30" y1="144.30" x2="313.30" y2="144.30" stroke="#0c0c0c" stroke-width="1.6" stroke-linecap="butt"/>
<line x1="174.30" y1="182.70" x2="313.30" y2="182.70" stroke="#0c0c0c" stroke-width="1.6" stroke-linecap="butt"/>
<line x1="206.70" y1="27.10" x2="206.70" y2="221.90" stroke="#111" stroke-width="1.3" stroke-linecap="butt"/>
<rect x="174.30" y="27.10" width="139.00" height="194.80" fill="none" stroke="#0c0c0c" stroke-width="2.3"/>
<text x="288.40" y="89.60" font-size="13.5" text-anchor="middle" >1%</text>
<text x="290.30" y="128.70" font-size="13.5" text-anchor="middle" >28%</text>
<text x="288.40" y="168.20" font-size="13.5" text-anchor="middle" >1%</text>
<text x="290.30" y="206.20" font-size="13.5" text-anchor="middle" >45%</text>
<line x1="174.30" y1="221.90" x2="174.30" y2="226.90" stroke="#111" stroke-width="1.4" stroke-linecap="butt"/>
<line x1="184.50" y1="221.90" x2="184.50" y2="225.10" stroke="#222" stroke-width="0.9" stroke-linecap="butt"/>
<line x1="190.47" y1="221.90" x2="190.47" y2="225.10" stroke="#222" stroke-width="0.9" stroke-linecap="butt"/>
<line x1="194.71" y1="221.90" x2="194.71" y2="225.10" stroke="#222" stroke-width="0.9" stroke-linecap="butt"/>
<line x1="198.00" y1="221.90" x2="198.00" y2="225.10" stroke="#222" stroke-width="0.9" stroke-linecap="butt"/>
<line x1="200.68" y1="221.90" x2="200.68" y2="225.10" stroke="#222" stroke-width="0.9" stroke-linecap="butt"/>
<line x1="202.95" y1="221.90" x2="202.95" y2="225.10" stroke="#222" stroke-width="0.9" stroke-linecap="butt"/>
<line x1="204.91" y1="221.90" x2="204.91" y2="225.10" stroke="#222" stroke-width="0.9" stroke-linecap="butt"/>
<line x1="206.65" y1="221.90" x2="206.65" y2="225.10" stroke="#222" stroke-width="0.9" stroke-linecap="butt"/>
<text transform="translate(171.40,242.60) scale(0.52,1)" font-size="9.6" fill="#222" stroke="#222" stroke-width="0.5">10</text>
<text transform="translate(176.80,236.80) scale(0.68,1)" font-size="9.3" fill="#222" stroke="#222" stroke-width="0.4">0</text>
<line x1="208.20" y1="221.90" x2="208.20" y2="226.90" stroke="#111" stroke-width="1.4" stroke-linecap="butt"/>
<line x1="218.40" y1="221.90" x2="218.40" y2="225.10" stroke="#222" stroke-width="0.9" stroke-linecap="butt"/>
<line x1="224.37" y1="221.90" x2="224.37" y2="225.10" stroke="#222" stroke-width="0.9" stroke-linecap="butt"/>
<line x1="228.61" y1="221.90" x2="228.61" y2="225.10" stroke="#222" stroke-width="0.9" stroke-linecap="butt"/>
<line x1="231.90" y1="221.90" x2="231.90" y2="225.10" stroke="#222" stroke-width="0.9" stroke-linecap="butt"/>
<line x1="234.58" y1="221.90" x2="234.58" y2="225.10" stroke="#222" stroke-width="0.9" stroke-linecap="butt"/>
<line x1="236.85" y1="221.90" x2="236.85" y2="225.10" stroke="#222" stroke-width="0.9" stroke-linecap="butt"/>
<line x1="238.81" y1="221.90" x2="238.81" y2="225.10" stroke="#222" stroke-width="0.9" stroke-linecap="butt"/>
<line x1="240.55" y1="221.90" x2="240.55" y2="225.10" stroke="#222" stroke-width="0.9" stroke-linecap="butt"/>
<text transform="translate(205.30,242.60) scale(0.52,1)" font-size="9.6" fill="#222" stroke="#222" stroke-width="0.5">10</text>
<text transform="translate(210.70,236.80) scale(0.68,1)" font-size="9.3" fill="#222" stroke="#222" stroke-width="0.4">1</text>
<line x1="242.10" y1="221.90" x2="242.10" y2="226.90" stroke="#111" stroke-width="1.4" stroke-linecap="butt"/>
<line x1="252.30" y1="221.90" x2="252.30" y2="225.10" stroke="#222" stroke-width="0.9" stroke-linecap="butt"/>
<line x1="258.27" y1="221.90" x2="258.27" y2="225.10" stroke="#222" stroke-width="0.9" stroke-linecap="butt"/>
<line x1="262.51" y1="221.90" x2="262.51" y2="225.10" stroke="#222" stroke-width="0.9" stroke-linecap="butt"/>
<line x1="265.80" y1="221.90" x2="265.80" y2="225.10" stroke="#222" stroke-width="0.9" stroke-linecap="butt"/>
<line x1="268.48" y1="221.90" x2="268.48" y2="225.10" stroke="#222" stroke-width="0.9" stroke-linecap="butt"/>
<line x1="270.75" y1="221.90" x2="270.75" y2="225.10" stroke="#222" stroke-width="0.9" stroke-linecap="butt"/>
<line x1="272.71" y1="221.90" x2="272.71" y2="225.10" stroke="#222" stroke-width="0.9" stroke-linecap="butt"/>
<line x1="274.45" y1="221.90" x2="274.45" y2="225.10" stroke="#222" stroke-width="0.9" stroke-linecap="butt"/>
<text transform="translate(239.20,242.60) scale(0.52,1)" font-size="9.6" fill="#222" stroke="#222" stroke-width="0.5">10</text>
<text transform="translate(244.60,236.80) scale(0.68,1)" font-size="9.3" fill="#222" stroke="#222" stroke-width="0.4">2</text>
<line x1="276.00" y1="221.90" x2="276.00" y2="226.90" stroke="#111" stroke-width="1.4" stroke-linecap="butt"/>
<line x1="286.20" y1="221.90" x2="286.20" y2="225.10" stroke="#222" stroke-width="0.9" stroke-linecap="butt"/>
<line x1="292.17" y1="221.90" x2="292.17" y2="225.10" stroke="#222" stroke-width="0.9" stroke-linecap="butt"/>
<line x1="296.41" y1="221.90" x2="296.41" y2="225.10" stroke="#222" stroke-width="0.9" stroke-linecap="butt"/>
<line x1="299.70" y1="221.90" x2="299.70" y2="225.10" stroke="#222" stroke-width="0.9" stroke-linecap="butt"/>
<line x1="302.38" y1="221.90" x2="302.38" y2="225.10" stroke="#222" stroke-width="0.9" stroke-linecap="butt"/>
<line x1="304.65" y1="221.90" x2="304.65" y2="225.10" stroke="#222" stroke-width="0.9" stroke-linecap="butt"/>
<line x1="306.61" y1="221.90" x2="306.61" y2="225.10" stroke="#222" stroke-width="0.9" stroke-linecap="butt"/>
<line x1="308.35" y1="221.90" x2="308.35" y2="225.10" stroke="#222" stroke-width="0.9" stroke-linecap="butt"/>
<text transform="translate(273.10,242.60) scale(0.52,1)" font-size="9.6" fill="#222" stroke="#222" stroke-width="0.5">10</text>
<text transform="translate(278.50,236.80) scale(0.68,1)" font-size="9.3" fill="#222" stroke="#222" stroke-width="0.4">3</text>
<line x1="309.90" y1="221.90" x2="309.90" y2="226.90" stroke="#111" stroke-width="1.4" stroke-linecap="butt"/>
<path d="M319.5,66.4 L319.5,66.2 L320.3,66.1 L321.1,66.1 L321.9,65.9 L322.7,65.5 L323.5,65.6 L324.3,65.4 L325.1,64.5 L325.9,63.5 L326.7,62.4 L327.5,61.2 L328.3,59.8 L329.1,57.8 L329.9,55.5 L330.7,52.6 L331.5,49.8 L332.3,45.3 L333.1,45.3 L333.9,42.9 L334.7,41.3 L335.5,38.1 L336.3,35.8 L337.1,34.4 L337.9,30.2 L338.7,29.2 L339.5,32.2 L340.3,33.5 L341.1,34.7 L341.9,33.9 L342.7,35.4 L343.5,35.9 L344.3,35.9 L345.1,37.7 L345.9,41.6 L346.7,43.6 L347.5,46.0 L348.3,47.9 L349.1,49.2 L349.9,50.8 L350.7,51.7 L351.5,52.9 L352.3,55.5 L353.1,56.7 L353.9,59.0 L354.7,60.2 L355.5,61.6 L356.3,62.8 L357.1,63.2 L357.9,64.2 L358.7,65.1 L359.5,65.3 L360.3,65.6 L361.1,65.6 L361.9,65.7 L362.7,65.9 L363.5,66.1 L364.3,66.2 L365.1,66.2 L365.9,66.2 L366.7,66.2 L367.5,66.2 L368.3,66.2 L369.1,65.8 L369.9,66.2 L370.7,66.2 L371.5,66.2 L372.3,66.2 L373.1,66.2 L373.9,66.2 L374.7,66.2 L375.5,66.2 L376.3,66.2 L377.1,66.2 L377.9,66.2 L378.7,66.2 L379.5,66.2 L380.3,66.2 L381.1,66.2 L381.9,66.2 L382.7,66.2 L383.5,66.2 L384.3,66.2 L385.1,66.2 L385.9,66.2 L386.7,66.2 L387.5,66.2 L388.3,66.2 L389.1,66.2 L389.9,66.2 L390.7,66.2 L391.5,66.1 L392.3,66.2 L393.1,66.2 L393.9,66.2 L394.7,66.2 L395.5,66.2 L396.3,66.2 L397.1,66.2 L397.9,66.2 L398.7,66.0 L399.5,66.2 L400.3,66.2 L401.1,66.2 L401.9,66.2 L402.7,66.1 L403.5,66.2 L404.3,66.2 L405.1,66.2 L405.9,66.2 L406.7,66.2 L407.5,66.1 L408.3,66.2 L409.1,66.1 L409.9,66.2 L410.7,66.2 L411.5,66.2 L412.3,66.2 L413.1,66.2 L413.9,66.2 L414.7,66.2 L415.5,66.2 L416.3,66.2 L417.1,66.1 L417.9,66.2 L418.7,66.2 L419.5,66.2 L420.3,66.1 L421.1,66.2 L421.9,66.1 L422.7,66.2 L423.5,66.1 L424.3,66.2 L425.1,66.2 L425.9,66.1 L426.7,66.2 L427.5,66.2 L428.3,66.2 L429.1,66.2 L429.9,66.2 L430.7,66.2 L431.5,66.1 L432.3,66.2 L433.1,66.2 L433.9,66.2 L434.7,66.0 L435.5,66.1 L436.3,66.2 L437.1,66.2 L437.9,66.2 L438.7,66.2 L439.5,66.2 L440.3,66.2 L441.1,66.2 L441.9,66.2 L442.7,66.2 L443.5,66.2 L444.3,66.2 L445.1,66.1 L445.9,66.1 L446.7,66.2 L447.5,66.2 L448.3,66.2 L449.1,66.2 L449.9,66.2 L450.7,66.2 L451.5,66.2 L452.3,66.2 L453.1,66.2 L453.9,66.2 L454.7,66.2 L455.5,66.2 L456.3,66.2 L457.1,66.2 L457.9,66.1 L458.5,66.4 Z" fill="#999999" stroke="none"/>
<path d="M319.5,66.2 L320.3,66.1 L321.1,66.1 L321.9,65.9 L322.7,65.5 L323.5,65.6 L324.3,65.4 L325.1,64.5 L325.9,63.5 L326.7,62.4 L327.5,61.2 L328.3,59.8 L329.1,57.8 L329.9,55.5 L330.7,52.6 L331.5,49.8 L332.3,45.3 L333.1,45.3 L333.9,42.9 L334.7,41.3 L335.5,38.1 L336.3,35.8 L337.1,34.4 L337.9,30.2 L338.7,29.2 L339.5,32.2 L340.3,33.5 L341.1,34.7 L341.9,33.9 L342.7,35.4 L343.5,35.9 L344.3,35.9 L345.1,37.7 L345.9,41.6 L346.7,43.6 L347.5,46.0 L348.3,47.9 L349.1,49.2 L349.9,50.8 L350.7,51.7 L351.5,52.9 L352.3,55.5 L353.1,56.7 L353.9,59.0 L354.7,60.2 L355.5,61.6 L356.3,62.8 L357.1,63.2 L357.9,64.2 L358.7,65.1 L359.5,65.3 L360.3,65.6 L361.1,65.6 L361.9,65.7 L362.7,65.9 L363.5,66.1 L364.3,66.2 L365.1,66.2 L365.9,66.2 L366.7,66.2 L367.5,66.2 L368.3,66.2 L369.1,65.8 L369.9,66.2 L370.7,66.2 L371.5,66.2 L372.3,66.2 L373.1,66.2 L373.9,66.2 L374.7,66.2 L375.5,66.2 L376.3,66.2 L377.1,66.2 L377.9,66.2 L378.7,66.2 L379.5,66.2 L380.3,66.2 L381.1,66.2 L381.9,66.2 L382.7,66.2 L383.5,66.2 L384.3,66.2 L385.1,66.2 L385.9,66.2 L386.7,66.2 L387.5,66.2 L388.3,66.2 L389.1,66.2 L389.9,66.2 L390.7,66.2 L391.5,66.1 L392.3,66.2 L393.1,66.2 L393.9,66.2 L394.7,66.2 L395.5,66.2 L396.3,66.2 L397.1,66.2 L397.9,66.2 L398.7,66.0 L399.5,66.2 L400.3,66.2 L401.1,66.2 L401.9,66.2 L402.7,66.1 L403.5,66.2 L404.3,66.2 L405.1,66.2 L405.9,66.2 L406.7,66.2 L407.5,66.1 L408.3,66.2 L409.1,66.1 L409.9,66.2 L410.7,66.2 L411.5,66.2 L412.3,66.2 L413.1,66.2 L413.9,66.2 L414.7,66.2 L415.5,66.2 L416.3,66.2 L417.1,66.1 L417.9,66.2 L418.7,66.2 L419.5,66.2 L420.3,66.1 L421.1,66.2 L421.9,66.1 L422.7,66.2 L423.5,66.1 L424.3,66.2 L425.1,66.2 L425.9,66.1 L426.7,66.2 L427.5,66.2 L428.3,66.2 L429.1,66.2 L429.9,66.2 L430.7,66.2 L431.5,66.1 L432.3,66.2 L433.1,66.2 L433.9,66.2 L434.7,66.0 L435.5,66.1 L436.3,66.2 L437.1,66.2 L437.9,66.2 L438.7,66.2 L439.5,66.2 L440.3,66.2 L441.1,66.2 L441.9,66.2 L442.7,66.2 L443.5,66.2 L444.3,66.2 L445.1,66.1 L445.9,66.1 L446.7,66.2 L447.5,66.2 L448.3,66.2 L449.1,66.2 L449.9,66.2 L450.7,66.2 L451.5,66.2 L452.3,66.2 L453.1,66.2 L453.9,66.2 L454.7,66.2 L455.5,66.2 L456.3,66.2 L457.1,66.2 L457.9,66.1" fill="none" stroke="#0a0a0a" stroke-width="1.7" stroke-linejoin="round"/>
<path d="M319.5,104.6 L319.5,104.4 L320.3,104.4 L321.1,103.9 L321.9,103.4 L322.7,103.0 L323.5,102.5 L324.3,101.4 L325.1,100.3 L325.9,99.4 L326.7,98.9 L327.5,96.5 L328.3,94.9 L329.1,93.2 L329.9,90.4 L330.7,88.5 L331.5,85.5 L332.3,83.0 L333.1,78.3 L333.9,78.8 L334.7,75.5 L335.5,72.8 L336.3,68.3 L337.1,69.1 L337.9,73.1 L338.7,73.8 L339.5,77.5 L340.3,77.6 L341.1,75.7 L341.9,71.0 L342.7,73.4 L343.5,74.9 L344.3,77.9 L345.1,77.5 L345.9,77.8 L346.7,79.6 L347.5,83.8 L348.3,88.2 L349.1,89.5 L349.9,89.2 L350.7,91.7 L351.5,95.1 L352.3,95.8 L353.1,97.7 L353.9,98.7 L354.7,99.9 L355.5,101.5 L356.3,102.4 L357.1,102.9 L357.9,102.9 L358.7,103.5 L359.5,103.5 L360.3,103.6 L361.1,103.8 L361.9,103.7 L362.7,103.8 L363.5,103.7 L364.3,103.7 L365.1,104.1 L365.9,103.8 L366.7,104.0 L367.5,103.8 L368.3,103.9 L369.1,103.9 L369.9,103.9 L370.7,104.1 L371.5,103.9 L372.3,103.9 L373.1,103.8 L373.9,104.0 L374.7,104.0 L375.5,103.8 L376.3,103.7 L377.1,103.9 L377.9,103.9 L378.7,104.0 L379.5,103.8 L380.3,104.0 L381.1,103.9 L381.9,104.0 L382.7,104.1 L383.5,103.9 L384.3,104.2 L385.1,103.9 L385.9,103.8 L386.7,103.9 L387.5,104.2 L388.3,104.2 L389.1,103.8 L389.9,104.1 L390.7,103.8 L391.5,104.0 L392.3,104.0 L393.1,103.8 L393.9,104.1 L394.7,104.3 L395.5,104.1 L396.3,103.8 L397.1,104.1 L397.9,104.0 L398.7,104.2 L399.5,103.9 L400.3,103.9 L401.1,103.8 L401.9,104.0 L402.7,103.9 L403.5,103.8 L404.3,103.9 L405.1,104.0 L405.9,104.1 L406.7,104.0 L407.5,103.9 L408.3,104.0 L409.1,103.9 L409.9,103.8 L410.7,104.1 L411.5,104.0 L412.3,104.1 L413.1,104.0 L413.9,103.9 L414.7,103.9 L415.5,103.9 L416.3,103.9 L417.1,104.2 L417.9,104.1 L418.7,103.9 L419.5,103.9 L420.3,104.0 L421.1,104.0 L421.9,103.8 L422.7,104.1 L423.5,103.7 L424.3,103.9 L425.1,104.1 L425.9,103.9 L426.7,104.0 L427.5,104.1 L428.3,104.1 L429.1,103.9 L429.9,104.3 L430.7,104.2 L431.5,103.9 L432.3,103.8 L433.1,104.2 L433.9,104.1 L434.7,103.9 L435.5,104.0 L436.3,103.8 L437.1,103.9 L437.9,104.1 L438.7,103.8 L439.5,104.0 L440.3,104.2 L441.1,104.1 L441.9,103.9 L442.7,104.2 L443.5,104.0 L444.3,103.9 L445.1,104.1 L445.9,104.2 L446.7,103.9 L447.5,104.2 L448.3,104.0 L449.1,104.1 L449.9,104.0 L450.7,104.0 L451.5,103.9 L452.3,104.2 L453.1,104.0 L453.9,104.1 L454.7,104.1 L455.5,104.1 L456.3,104.1 L457.1,104.2 L457.9,104.1 L458.5,104.6 Z" fill="#b2b2b2" stroke="none"/>
<path d="M319.5,104.4 L320.3,104.4 L321.1,103.9 L321.9,103.4 L322.7,103.0 L323.5,102.5 L324.3,101.4 L325.1,100.3 L325.9,99.4 L326.7,98.9 L327.5,96.5 L328.3,94.9 L329.1,93.2 L329.9,90.4 L330.7,88.5 L331.5,85.5 L332.3,83.0 L333.1,78.3 L333.9,78.8 L334.7,75.5 L335.5,72.8 L336.3,68.3 L337.1,69.1 L337.9,73.1 L338.7,73.8 L339.5,77.5 L340.3,77.6 L341.1,75.7 L341.9,71.0 L342.7,73.4 L343.5,74.9 L344.3,77.9 L345.1,77.5 L345.9,77.8 L346.7,79.6 L347.5,83.8 L348.3,88.2 L349.1,89.5 L349.9,89.2 L350.7,91.7 L351.5,95.1 L352.3,95.8 L353.1,97.7 L353.9,98.7 L354.7,99.9 L355.5,101.5 L356.3,102.4 L357.1,102.9 L357.9,102.9 L358.7,103.5 L359.5,103.5 L360.3,103.6 L361.1,103.8 L361.9,103.7 L362.7,103.8 L363.5,103.7 L364.3,103.7 L365.1,104.1 L365.9,103.8 L366.7,104.0 L367.5,103.8 L368.3,103.9 L369.1,103.9 L369.9,103.9 L370.7,104.1 L371.5,103.9 L372.3,103.9 L373.1,103.8 L373.9,104.0 L374.7,104.0 L375.5,103.8 L376.3,103.7 L377.1,103.9 L377.9,103.9 L378.7,104.0 L379.5,103.8 L380.3,104.0 L381.1,103.9 L381.9,104.0 L382.7,104.1 L383.5,103.9 L384.3,104.2 L385.1,103.9 L385.9,103.8 L386.7,103.9 L387.5,104.2 L388.3,104.2 L389.1,103.8 L389.9,104.1 L390.7,103.8 L391.5,104.0 L392.3,104.0 L393.1,103.8 L393.9,104.1 L394.7,104.3 L395.5,104.1 L396.3,103.8 L397.1,104.1 L397.9,104.0 L398.7,104.2 L399.5,103.9 L400.3,103.9 L401.1,103.8 L401.9,104.0 L402.7,103.9 L403.5,103.8 L404.3,103.9 L405.1,104.0 L405.9,104.1 L406.7,104.0 L407.5,103.9 L408.3,104.0 L409.1,103.9 L409.9,103.8 L410.7,104.1 L411.5,104.0 L412.3,104.1 L413.1,104.0 L413.9,103.9 L414.7,103.9 L415.5,103.9 L416.3,103.9 L417.1,104.2 L417.9,104.1 L418.7,103.9 L419.5,103.9 L420.3,104.0 L421.1,104.0 L421.9,103.8 L422.7,104.1 L423.5,103.7 L424.3,103.9 L425.1,104.1 L425.9,103.9 L426.7,104.0 L427.5,104.1 L428.3,104.1 L429.1,103.9 L429.9,104.3 L430.7,104.2 L431.5,103.9 L432.3,103.8 L433.1,104.2 L433.9,104.1 L434.7,103.9 L435.5,104.0 L436.3,103.8 L437.1,103.9 L437.9,104.1 L438.7,103.8 L439.5,104.0 L440.3,104.2 L441.1,104.1 L441.9,103.9 L442.7,104.2 L443.5,104.0 L444.3,103.9 L445.1,104.1 L445.9,104.2 L446.7,103.9 L447.5,104.2 L448.3,104.0 L449.1,104.1 L449.9,104.0 L450.7,104.0 L451.5,103.9 L452.3,104.2 L453.1,104.0 L453.9,104.1 L454.7,104.1 L455.5,104.1 L456.3,104.1 L457.1,104.2 L457.9,104.1" fill="none" stroke="#0a0a0a" stroke-width="1.7" stroke-linejoin="round"/>
<path d="M319.5,143.3 L319.5,143.0 L320.3,143.0 L321.1,142.7 L321.9,142.7 L322.7,142.8 L323.5,140.9 L324.3,140.8 L325.1,139.9 L325.9,141.0 L326.7,138.7 L327.5,137.4 L328.3,140.2 L329.1,138.3 L329.9,133.2 L330.7,135.1 L331.5,131.9 L332.3,128.6 L333.1,126.9 L333.9,123.6 L334.7,121.3 L335.5,123.4 L336.3,120.2 L337.1,122.0 L337.9,117.7 L338.7,119.2 L339.5,124.7 L340.3,116.8 L341.1,121.3 L341.9,110.1 L342.7,113.7 L343.5,114.3 L344.3,115.6 L345.1,112.8 L345.9,107.9 L346.7,108.0 L347.5,97.9 L348.3,112.1 L349.1,111.3 L349.9,107.6 L350.7,104.3 L351.5,115.2 L352.3,111.3 L353.1,112.0 L353.9,106.9 L354.7,112.7 L355.5,107.0 L356.3,112.2 L357.1,108.7 L357.9,119.6 L358.7,116.6 L359.5,107.0 L360.3,118.9 L361.1,122.8 L361.9,111.7 L362.7,116.2 L363.5,115.7 L364.3,116.2 L365.1,112.5 L365.9,117.7 L366.7,116.3 L367.5,116.9 L368.3,118.6 L369.1,125.5 L369.9,126.1 L370.7,127.7 L371.5,127.0 L372.3,120.5 L373.1,122.6 L373.9,119.1 L374.7,124.7 L375.5,122.2 L376.3,124.2 L377.1,120.6 L377.9,124.8 L378.7,122.2 L379.5,123.9 L380.3,128.6 L381.1,123.5 L381.9,131.1 L382.7,132.0 L383.5,126.1 L384.3,132.8 L385.1,132.3 L385.9,129.0 L386.7,135.3 L387.5,132.5 L388.3,135.4 L389.1,135.7 L389.9,135.9 L390.7,133.7 L391.5,138.4 L392.3,134.3 L393.1,134.2 L393.9,137.6 L394.7,138.1 L395.5,136.7 L396.3,134.3 L397.1,138.8 L397.9,137.0 L398.7,141.4 L399.5,141.4 L400.3,140.2 L401.1,140.3 L401.9,140.3 L402.7,143.2 L403.5,141.6 L404.3,142.3 L405.1,140.5 L405.9,140.7 L406.7,140.9 L407.5,143.2 L408.3,140.6 L409.1,142.4 L409.9,142.4 L410.7,142.5 L411.5,142.5 L412.3,142.6 L413.1,142.8 L413.9,142.9 L414.7,142.9 L415.5,142.7 L416.3,142.7 L417.1,142.7 L417.9,143.0 L418.7,142.8 L419.5,143.0 L420.3,142.9 L421.1,142.9 L421.9,142.7 L422.7,142.8 L423.5,142.9 L424.3,143.0 L425.1,143.1 L425.9,142.8 L426.7,142.8 L427.5,143.0 L428.3,142.6 L429.1,142.9 L429.9,143.0 L430.7,142.8 L431.5,142.9 L432.3,142.8 L433.1,142.9 L433.9,142.8 L434.7,143.1 L435.5,143.1 L436.3,143.2 L437.1,142.8 L437.9,142.8 L438.7,142.8 L439.5,142.9 L440.3,142.9 L441.1,142.9 L441.9,142.8 L442.7,142.9 L443.5,142.7 L444.3,143.0 L445.1,143.0 L445.9,143.0 L446.7,142.8 L447.5,143.0 L448.3,143.0 L449.1,142.9 L449.9,143.1 L450.7,143.1 L451.5,143.0 L452.3,142.9 L453.1,143.0 L453.9,143.0 L454.7,143.2 L455.5,143.0 L456.3,143.0 L457.1,143.0 L457.9,142.9 L458.5,143.3 Z" fill="#787878" stroke="none"/>
<path d="M319.5,143.0 L320.3,143.0 L321.1,142.7 L321.9,142.7 L322.7,142.8 L323.5,140.9 L324.3,140.8 L325.1,139.9 L325.9,141.0 L326.7,138.7 L327.5,137.4 L328.3,140.2 L329.1,138.3 L329.9,133.2 L330.7,135.1 L331.5,131.9 L332.3,128.6 L333.1,126.9 L333.9,123.6 L334.7,121.3 L335.5,123.4 L336.3,120.2 L337.1,122.0 L337.9,117.7 L338.7,119.2 L339.5,124.7 L340.3,116.8 L341.1,121.3 L341.9,110.1 L342.7,113.7 L343.5,114.3 L344.3,115.6 L345.1,112.8 L345.9,107.9 L346.7,108.0 L347.5,97.9 L348.3,112.1 L349.1,111.3 L349.9,107.6 L350.7,104.3 L351.5,115.2 L352.3,111.3 L353.1,112.0 L353.9,106.9 L354.7,112.7 L355.5,107.0 L356.3,112.2 L357.1,108.7 L357.9,119.6 L358.7,116.6 L359.5,107.0 L360.3,118.9 L361.1,122.8 L361.9,111.7 L362.7,116.2 L363.5,115.7 L364.3,116.2 L365.1,112.5 L365.9,117.7 L366.7,116.3 L367.5,116.9 L368.3,118.6 L369.1,125.5 L369.9,126.1 L370.7,127.7 L371.5,127.0 L372.3,120.5 L373.1,122.6 L373.9,119.1 L374.7,124.7 L375.5,122.2 L376.3,124.2 L377.1,120.6 L377.9,124.8 L378.7,122.2 L379.5,123.9 L380.3,128.6 L381.1,123.5 L381.9,131.1 L382.7,132.0 L383.5,126.1 L384.3,132.8 L385.1,132.3 L385.9,129.0 L386.7,135.3 L387.5,132.5 L388.3,135.4 L389.1,135.7 L389.9,135.9 L390.7,133.7 L391.5,138.4 L392.3,134.3 L393.1,134.2 L393.9,137.6 L394.7,138.1 L395.5,136.7 L396.3,134.3 L397.1,138.8 L397.9,137.0 L398.7,141.4 L399.5,141.4 L400.3,140.2 L401.1,140.3 L401.9,140.3 L402.7,143.2 L403.5,141.6 L404.3,142.3 L405.1,140.5 L405.9,140.7 L406.7,140.9 L407.5,143.2 L408.3,140.6 L409.1,142.4 L409.9,142.4 L410.7,142.5 L411.5,142.5 L412.3,142.6 L413.1,142.8 L413.9,142.9 L414.7,142.9 L415.5,142.7 L416.3,142.7 L417.1,142.7 L417.9,143.0 L418.7,142.8 L419.5,143.0 L420.3,142.9 L421.1,142.9 L421.9,142.7 L422.7,142.8 L423.5,142.9 L424.3,143.0 L425.1,143.1 L425.9,142.8 L426.7,142.8 L427.5,143.0 L428.3,142.6 L429.1,142.9 L429.9,143.0 L430.7,142.8 L431.5,142.9 L432.3,142.8 L433.1,142.9 L433.9,142.8 L434.7,143.1 L435.5,143.1 L436.3,143.2 L437.1,142.8 L437.9,142.8 L438.7,142.8 L439.5,142.9 L440.3,142.9 L441.1,142.9 L441.9,142.8 L442.7,142.9 L443.5,142.7 L444.3,143.0 L445.1,143.0 L445.9,143.0 L446.7,142.8 L447.5,143.0 L448.3,143.0 L449.1,142.9 L449.9,143.1 L450.7,143.1 L451.5,143.0 L452.3,142.9 L453.1,143.0 L453.9,143.0 L454.7,143.2 L455.5,143.0 L456.3,143.0 L457.1,143.0 L457.9,142.9" fill="none" stroke="#0a0a0a" stroke-width="1.25" stroke-linejoin="round"/>
<path d="M319.5,182.5 L319.5,182.1 L320.3,182.3 L321.1,182.3 L321.9,182.0 L322.7,182.2 L323.5,181.9 L324.3,182.0 L325.1,181.8 L325.9,181.6 L326.7,181.2 L327.5,180.3 L328.3,179.5 L329.1,178.6 L329.9,177.9 L330.7,177.3 L331.5,174.4 L332.3,171.1 L333.1,167.5 L333.9,164.5 L334.7,162.6 L335.5,160.5 L336.3,159.8 L337.1,159.1 L337.9,156.2 L338.7,153.5 L339.5,154.2 L340.3,153.5 L341.1,153.3 L341.9,150.2 L342.7,150.4 L343.5,147.8 L344.3,149.0 L345.1,149.2 L345.9,152.2 L346.7,153.0 L347.5,156.8 L348.3,157.8 L349.1,161.2 L349.9,159.4 L350.7,160.9 L351.5,162.2 L352.3,162.3 L353.1,165.9 L353.9,166.9 L354.7,169.0 L355.5,168.7 L356.3,168.7 L357.1,169.3 L357.9,170.4 L358.7,170.1 L359.5,172.2 L360.3,172.4 L361.1,173.2 L361.9,172.7 L362.7,173.7 L363.5,174.3 L364.3,174.4 L365.1,175.9 L365.9,176.1 L366.7,176.2 L367.5,177.1 L368.3,176.8 L369.1,177.1 L369.9,178.5 L370.7,177.7 L371.5,178.5 L372.3,178.6 L373.1,179.3 L373.9,179.5 L374.7,179.4 L375.5,180.1 L376.3,179.4 L377.1,180.4 L377.9,180.4 L378.7,181.2 L379.5,180.6 L380.3,181.0 L381.1,181.1 L381.9,181.3 L382.7,181.4 L383.5,181.4 L384.3,181.4 L385.1,181.7 L385.9,181.7 L386.7,181.9 L387.5,182.0 L388.3,182.1 L389.1,182.0 L389.9,181.9 L390.7,182.2 L391.5,181.9 L392.3,181.9 L393.1,182.1 L393.9,182.1 L394.7,182.1 L395.5,182.0 L396.3,182.2 L397.1,181.8 L397.9,182.1 L398.7,182.1 L399.5,182.1 L400.3,182.1 L401.1,182.1 L401.9,182.2 L402.7,182.3 L403.5,182.2 L404.3,182.3 L405.1,182.1 L405.9,182.2 L406.7,182.1 L407.5,182.1 L408.3,182.1 L409.1,182.2 L409.9,182.2 L410.7,182.2 L411.5,182.1 L412.3,182.2 L413.1,181.9 L413.9,182.2 L414.7,182.3 L415.5,182.1 L416.3,182.0 L417.1,182.2 L417.9,182.1 L418.7,182.1 L419.5,182.2 L420.3,182.1 L421.1,182.1 L421.9,182.2 L422.7,182.0 L423.5,182.1 L424.3,182.3 L425.1,182.3 L425.9,182.2 L426.7,182.2 L427.5,182.1 L428.3,182.2 L429.1,182.3 L429.9,182.2 L430.7,182.1 L431.5,182.1 L432.3,182.3 L433.1,182.2 L433.9,181.9 L434.7,182.2 L435.5,182.1 L436.3,182.1 L437.1,182.2 L437.9,182.1 L438.7,182.1 L439.5,182.3 L440.3,182.2 L441.1,182.0 L441.9,182.3 L442.7,182.1 L443.5,182.2 L444.3,182.2 L445.1,182.1 L445.9,182.1 L446.7,182.1 L447.5,182.2 L448.3,182.1 L449.1,182.3 L449.9,182.2 L450.7,182.1 L451.5,182.2 L452.3,182.1 L453.1,182.2 L453.9,182.3 L454.7,182.2 L455.5,182.1 L456.3,182.2 L457.1,182.2 L457.9,182.1 L458.5,182.5 Z" fill="#202020" stroke="none"/>
<path d="M319.5,182.1 L320.3,182.3 L321.1,182.3 L321.9,182.0 L322.7,182.2 L323.5,181.9 L324.3,182.0 L325.1,181.8 L325.9,181.6 L326.7,181.2 L327.5,180.3 L328.3,179.5 L329.1,178.6 L329.9,177.9 L330.7,177.3 L331.5,174.4 L332.3,171.1 L333.1,167.5 L333.9,164.5 L334.7,162.6 L335.5,160.5 L336.3,159.8 L337.1,159.1 L337.9,156.2 L338.7,153.5 L339.5,154.2 L340.3,153.5 L341.1,153.3 L341.9,150.2 L342.7,150.4 L343.5,147.8 L344.3,149.0 L345.1,149.2 L345.9,152.2 L346.7,153.0 L347.5,156.8 L348.3,157.8 L349.1,161.2 L349.9,159.4 L350.7,160.9 L351.5,162.2 L352.3,162.3 L353.1,165.9 L353.9,166.9 L354.7,169.0 L355.5,168.7 L356.3,168.7 L357.1,169.3 L357.9,170.4 L358.7,170.1 L359.5,172.2 L360.3,172.4 L361.1,173.2 L361.9,172.7 L362.7,173.7 L363.5,174.3 L364.3,174.4 L365.1,175.9 L365.9,176.1 L366.7,176.2 L367.5,177.1 L368.3,176.8 L369.1,177.1 L369.9,178.5 L370.7,177.7 L371.5,178.5 L372.3,178.6 L373.1,179.3 L373.9,179.5 L374.7,179.4 L375.5,180.1 L376.3,179.4 L377.1,180.4 L377.9,180.4 L378.7,181.2 L379.5,180.6 L380.3,181.0 L381.1,181.1 L381.9,181.3 L382.7,181.4 L383.5,181.4 L384.3,181.4 L385.1,181.7 L385.9,181.7 L386.7,181.9 L387.5,182.0 L388.3,182.1 L389.1,182.0 L389.9,181.9 L390.7,182.2 L391.5,181.9 L392.3,181.9 L393.1,182.1 L393.9,182.1 L394.7,182.1 L395.5,182.0 L396.3,182.2 L397.1,181.8 L397.9,182.1 L398.7,182.1 L399.5,182.1 L400.3,182.1 L401.1,182.1 L401.9,182.2 L402.7,182.3 L403.5,182.2 L404.3,182.3 L405.1,182.1 L405.9,182.2 L406.7,182.1 L407.5,182.1 L408.3,182.1 L409.1,182.2 L409.9,182.2 L410.7,182.2 L411.5,182.1 L412.3,182.2 L413.1,181.9 L413.9,182.2 L414.7,182.3 L415.5,182.1 L416.3,182.0 L417.1,182.2 L417.9,182.1 L418.7,182.1 L419.5,182.2 L420.3,182.1 L421.1,182.1 L421.9,182.2 L422.7,182.0 L423.5,182.1 L424.3,182.3 L425.1,182.3 L425.9,182.2 L426.7,182.2 L427.5,182.1 L428.3,182.2 L429.1,182.3 L429.9,182.2 L430.7,182.1 L431.5,182.1 L432.3,182.3 L433.1,182.2 L433.9,181.9 L434.7,182.2 L435.5,182.1 L436.3,182.1 L437.1,182.2 L437.9,182.1 L438.7,182.1 L439.5,182.3 L440.3,182.2 L441.1,182.0 L441.9,182.3 L442.7,182.1 L443.5,182.2 L444.3,182.2 L445.1,182.1 L445.9,182.1 L446.7,182.1 L447.5,182.2 L448.3,182.1 L449.1,182.3 L449.9,182.2 L450.7,182.1 L451.5,182.2 L452.3,182.1 L453.1,182.2 L453.9,182.3 L454.7,182.2 L455.5,182.1 L456.3,182.2 L457.1,182.2 L457.9,182.1" fill="none" stroke="#0a0a0a" stroke-width="1.6" stroke-linejoin="round"/>
<path d="M319.5,221.3 L319.5,220.9 L320.3,221.1 L321.1,220.9 L321.9,220.8 L322.7,220.8 L323.5,220.7 L324.3,220.9 L325.1,220.9 L325.9,220.7 L326.7,220.3 L327.5,220.6 L328.3,219.8 L329.1,217.7 L329.9,215.5 L330.7,214.7 L331.5,216.1 L332.3,213.2 L333.1,212.9 L333.9,213.5 L334.7,207.7 L335.5,206.5 L336.3,209.4 L337.1,204.4 L337.9,204.4 L338.7,205.7 L339.5,199.4 L340.3,198.6 L341.1,203.6 L341.9,195.6 L342.7,197.8 L343.5,190.6 L344.3,196.2 L345.1,189.1 L345.9,193.1 L346.7,184.5 L347.5,183.8 L348.3,182.7 L349.1,184.4 L349.9,194.8 L350.7,192.4 L351.5,195.3 L352.3,202.7 L353.1,191.8 L353.9,199.4 L354.7,199.8 L355.5,202.7 L356.3,198.8 L357.1,196.2 L357.9,202.9 L358.7,201.0 L359.5,197.7 L360.3,203.8 L361.1,205.3 L361.9,204.9 L362.7,205.8 L363.5,209.2 L364.3,203.2 L365.1,207.2 L365.9,209.9 L366.7,204.4 L367.5,201.0 L368.3,205.9 L369.1,205.2 L369.9,203.5 L370.7,202.6 L371.5,201.2 L372.3,203.9 L373.1,196.6 L373.9,202.3 L374.7,201.2 L375.5,198.1 L376.3,196.5 L377.1,197.0 L377.9,206.0 L378.7,205.6 L379.5,210.2 L380.3,207.8 L381.1,206.7 L381.9,208.8 L382.7,211.3 L383.5,208.9 L384.3,209.4 L385.1,211.3 L385.9,210.8 L386.7,212.2 L387.5,212.3 L388.3,215.5 L389.1,215.7 L389.9,214.2 L390.7,215.1 L391.5,214.2 L392.3,216.1 L393.1,215.2 L393.9,215.9 L394.7,218.1 L395.5,216.6 L396.3,216.8 L397.1,216.7 L397.9,219.7 L398.7,217.9 L399.5,217.8 L400.3,218.3 L401.1,217.6 L401.9,218.9 L402.7,218.0 L403.5,219.2 L404.3,217.4 L405.1,216.1 L405.9,219.6 L406.7,216.5 L407.5,218.9 L408.3,218.0 L409.1,219.6 L409.9,220.4 L410.7,220.4 L411.5,220.0 L412.3,220.3 L413.1,220.4 L413.9,220.4 L414.7,220.5 L415.5,220.6 L416.3,220.6 L417.1,220.9 L417.9,220.9 L418.7,220.7 L419.5,220.7 L420.3,221.0 L421.1,221.0 L421.9,220.9 L422.7,221.0 L423.5,221.0 L424.3,220.7 L425.1,221.0 L425.9,221.0 L426.7,221.0 L427.5,220.9 L428.3,221.1 L429.1,221.1 L429.9,221.0 L430.7,221.0 L431.5,220.9 L432.3,220.9 L433.1,221.1 L433.9,220.9 L434.7,220.9 L435.5,221.1 L436.3,221.1 L437.1,221.1 L437.9,221.1 L438.7,221.0 L439.5,221.1 L440.3,220.9 L441.1,221.1 L441.9,221.0 L442.7,221.1 L443.5,221.1 L444.3,220.8 L445.1,221.1 L445.9,221.0 L446.7,220.8 L447.5,221.0 L448.3,221.0 L449.1,221.1 L449.9,220.9 L450.7,221.0 L451.5,221.1 L452.3,221.0 L453.1,221.1 L453.9,221.1 L454.7,221.1 L455.5,221.1 L456.3,221.1 L457.1,221.0 L457.9,221.1 L458.5,221.3 Z" fill="#eeeeee" stroke="none"/>
<path d="M319.5,220.9 L320.3,221.1 L321.1,220.9 L321.9,220.8 L322.7,220.8 L323.5,220.7 L324.3,220.9 L325.1,220.9 L325.9,220.7 L326.7,220.3 L327.5,220.6 L328.3,219.8 L329.1,217.7 L329.9,215.5 L330.7,214.7 L331.5,216.1 L332.3,213.2 L333.1,212.9 L333.9,213.5 L334.7,207.7 L335.5,206.5 L336.3,209.4 L337.1,204.4 L337.9,204.4 L338.7,205.7 L339.5,199.4 L340.3,198.6 L341.1,203.6 L341.9,195.6 L342.7,197.8 L343.5,190.6 L344.3,196.2 L345.1,189.1 L345.9,193.1 L346.7,184.5 L347.5,183.8 L348.3,182.7 L349.1,184.4 L349.9,194.8 L350.7,192.4 L351.5,195.3 L352.3,202.7 L353.1,191.8 L353.9,199.4 L354.7,199.8 L355.5,202.7 L356.3,198.8 L357.1,196.2 L357.9,202.9 L358.7,201.0 L359.5,197.7 L360.3,203.8 L361.1,205.3 L361.9,204.9 L362.7,205.8 L363.5,209.2 L364.3,203.2 L365.1,207.2 L365.9,209.9 L366.7,204.4 L367.5,201.0 L368.3,205.9 L369.1,205.2 L369.9,203.5 L370.7,202.6 L371.5,201.2 L372.3,203.9 L373.1,196.6 L373.9,202.3 L374.7,201.2 L375.5,198.1 L376.3,196.5 L377.1,197.0 L377.9,206.0 L378.7,205.6 L379.5,210.2 L380.3,207.8 L381.1,206.7 L381.9,208.8 L382.7,211.3 L383.5,208.9 L384.3,209.4 L385.1,211.3 L385.9,210.8 L386.7,212.2 L387.5,212.3 L388.3,215.5 L389.1,215.7 L389.9,214.2 L390.7,215.1 L391.5,214.2 L392.3,216.1 L393.1,215.2 L393.9,215.9 L394.7,218.1 L395.5,216.6 L396.3,216.8 L397.1,216.7 L397.9,219.7 L398.7,217.9 L399.5,217.8 L400.3,218.3 L401.1,217.6 L401.9,218.9 L402.7,218.0 L403.5,219.2 L404.3,217.4 L405.1,216.1 L405.9,219.6 L406.7,216.5 L407.5,218.9 L408.3,218.0 L409.1,219.6 L409.9,220.4 L410.7,220.4 L411.5,220.0 L412.3,220.3 L413.1,220.4 L413.9,220.4 L414.7,220.5 L415.5,220.6 L416.3,220.6 L417.1,220.9 L417.9,220.9 L418.7,220.7 L419.5,220.7 L420.3,221.0 L421.1,221.0 L421.9,220.9 L422.7,221.0 L423.5,221.0 L424.3,220.7 L425.1,221.0 L425.9,221.0 L426.7,221.0 L427.5,220.9 L428.3,221.1 L429.1,221.1 L429.9,221.0 L430.7,221.0 L431.5,220.9 L432.3,220.9 L433.1,221.1 L433.9,220.9 L434.7,220.9 L435.5,221.1 L436.3,221.1 L437.1,221.1 L437.9,221.1 L438.7,221.0 L439.5,221.1 L440.3,220.9 L441.1,221.1 L441.9,221.0 L442.7,221.1 L443.5,221.1 L444.3,220.8 L445.1,221.1 L445.9,221.0 L446.7,220.8 L447.5,221.0 L448.3,221.0 L449.1,221.1 L449.9,220.9 L450.7,221.0 L451.5,221.1 L452.3,221.0 L453.1,221.1 L453.9,221.1 L454.7,221.1 L455.5,221.1 L456.3,221.1 L457.1,221.0 L457.9,221.1" fill="none" stroke="#0a0a0a" stroke-width="1.55" stroke-linejoin="round"/>
<line x1="319.00" y1="66.60" x2="459.00" y2="66.60" stroke="#0c0c0c" stroke-width="1.6" stroke-linecap="butt"/>
<line x1="319.00" y1="104.80" x2="459.00" y2="104.80" stroke="#0c0c0c" stroke-width="1.6" stroke-linecap="butt"/>
<line x1="319.00" y1="143.50" x2="459.00" y2="143.50" stroke="#0c0c0c" stroke-width="1.6" stroke-linecap="butt"/>
<line x1="319.00" y1="182.70" x2="459.00" y2="182.70" stroke="#0c0c0c" stroke-width="1.6" stroke-linecap="butt"/>
<line x1="356.70" y1="27.10" x2="356.70" y2="222.10" stroke="#111" stroke-width="1.3" stroke-linecap="butt"/>
<rect x="319.00" y="27.10" width="140.00" height="195.00" fill="none" stroke="#0c0c0c" stroke-width="2.3"/>
<text x="431.90" y="90.20" font-size="13.5" text-anchor="middle" >4%</text>
<text x="433.80" y="129.00" font-size="13.5" text-anchor="middle" >43%</text>
<text x="433.80" y="168.70" font-size="13.5" text-anchor="middle" >16%</text>
<text x="433.80" y="206.40" font-size="13.5" text-anchor="middle" >47%</text>
<line x1="319.00" y1="222.10" x2="319.00" y2="227.10" stroke="#111" stroke-width="1.4" stroke-linecap="butt"/>
<line x1="329.20" y1="222.10" x2="329.20" y2="225.30" stroke="#222" stroke-width="0.9" stroke-linecap="butt"/>
<line x1="335.17" y1="222.10" x2="335.17" y2="225.30" stroke="#222" stroke-width="0.9" stroke-linecap="butt"/>
<line x1="339.41" y1="222.10" x2="339.41" y2="225.30" stroke="#222" stroke-width="0.9" stroke-linecap="butt"/>
<line x1="342.70" y1="222.10" x2="342.70" y2="225.30" stroke="#222" stroke-width="0.9" stroke-linecap="butt"/>
<line x1="345.38" y1="222.10" x2="345.38" y2="225.30" stroke="#222" stroke-width="0.9" stroke-linecap="butt"/>
<line x1="347.65" y1="222.10" x2="347.65" y2="225.30" stroke="#222" stroke-width="0.9" stroke-linecap="butt"/>
<line x1="349.61" y1="222.10" x2="349.61" y2="225.30" stroke="#222" stroke-width="0.9" stroke-linecap="butt"/>
<line x1="351.35" y1="222.10" x2="351.35" y2="225.30" stroke="#222" stroke-width="0.9" stroke-linecap="butt"/>
<text transform="translate(316.10,242.60) scale(0.52,1)" font-size="9.6" fill="#222" stroke="#222" stroke-width="0.5">10</text>
<text transform="translate(321.50,236.80) scale(0.68,1)" font-size="9.3" fill="#222" stroke="#222" stroke-width="0.4">0</text>
<line x1="352.90" y1="222.10" x2="352.90" y2="227.10" stroke="#111" stroke-width="1.4" stroke-linecap="butt"/>
<line x1="363.10" y1="222.10" x2="363.10" y2="225.30" stroke="#222" stroke-width="0.9" stroke-linecap="butt"/>
<line x1="369.07" y1="222.10" x2="369.07" y2="225.30" stroke="#222" stroke-width="0.9" stroke-linecap="butt"/>
<line x1="373.31" y1="222.10" x2="373.31" y2="225.30" stroke="#222" stroke-width="0.9" stroke-linecap="butt"/>
<line x1="376.60" y1="222.10" x2="376.60" y2="225.30" stroke="#222" stroke-width="0.9" stroke-linecap="butt"/>
<line x1="379.28" y1="222.10" x2="379.28" y2="225.30" stroke="#222" stroke-width="0.9" stroke-linecap="butt"/>
<line x1="381.55" y1="222.10" x2="381.55" y2="225.30" stroke="#222" stroke-width="0.9" stroke-linecap="butt"/>
<line x1="383.51" y1="222.10" x2="383.51" y2="225.30" stroke="#222" stroke-width="0.9" stroke-linecap="butt"/>
<line x1="385.25" y1="222.10" x2="385.25" y2="225.30" stroke="#222" stroke-width="0.9" stroke-linecap="butt"/>
<text transform="translate(350.00,242.60) scale(0.52,1)" font-size="9.6" fill="#222" stroke="#222" stroke-width="0.5">10</text>
<text transform="translate(355.40,236.80) scale(0.68,1)" font-size="9.3" fill="#222" stroke="#222" stroke-width="0.4">1</text>
<line x1="386.80" y1="222.10" x2="386.80" y2="227.10" stroke="#111" stroke-width="1.4" stroke-linecap="butt"/>
<line x1="397.00" y1="222.10" x2="397.00" y2="225.30" stroke="#222" stroke-width="0.9" stroke-linecap="butt"/>
<line x1="402.97" y1="222.10" x2="402.97" y2="225.30" stroke="#222" stroke-width="0.9" stroke-linecap="butt"/>
<line x1="407.21" y1="222.10" x2="407.21" y2="225.30" stroke="#222" stroke-width="0.9" stroke-linecap="butt"/>
<line x1="410.50" y1="222.10" x2="410.50" y2="225.30" stroke="#222" stroke-width="0.9" stroke-linecap="butt"/>
<line x1="413.18" y1="222.10" x2="413.18" y2="225.30" stroke="#222" stroke-width="0.9" stroke-linecap="butt"/>
<line x1="415.45" y1="222.10" x2="415.45" y2="225.30" stroke="#222" stroke-width="0.9" stroke-linecap="butt"/>
<line x1="417.41" y1="222.10" x2="417.41" y2="225.30" stroke="#222" stroke-width="0.9" stroke-linecap="butt"/>
<line x1="419.15" y1="222.10" x2="419.15" y2="225.30" stroke="#222" stroke-width="0.9" stroke-linecap="butt"/>
<text transform="translate(383.90,242.60) scale(0.52,1)" font-size="9.6" fill="#222" stroke="#222" stroke-width="0.5">10</text>
<text transform="translate(389.30,236.80) scale(0.68,1)" font-size="9.3" fill="#222" stroke="#222" stroke-width="0.4">2</text>
<line x1="420.70" y1="222.10" x2="420.70" y2="227.10" stroke="#111" stroke-width="1.4" stroke-linecap="butt"/>
<line x1="430.90" y1="222.10" x2="430.90" y2="225.30" stroke="#222" stroke-width="0.9" stroke-linecap="butt"/>
<line x1="436.87" y1="222.10" x2="436.87" y2="225.30" stroke="#222" stroke-width="0.9" stroke-linecap="butt"/>
<line x1="441.11" y1="222.10" x2="441.11" y2="225.30" stroke="#222" stroke-width="0.9" stroke-linecap="butt"/>
<line x1="444.40" y1="222.10" x2="444.40" y2="225.30" stroke="#222" stroke-width="0.9" stroke-linecap="butt"/>
<line x1="447.08" y1="222.10" x2="447.08" y2="225.30" stroke="#222" stroke-width="0.9" stroke-linecap="butt"/>
<line x1="449.35" y1="222.10" x2="449.35" y2="225.30" stroke="#222" stroke-width="0.9" stroke-linecap="butt"/>
<line x1="451.31" y1="222.10" x2="451.31" y2="225.30" stroke="#222" stroke-width="0.9" stroke-linecap="butt"/>
<line x1="453.05" y1="222.10" x2="453.05" y2="225.30" stroke="#222" stroke-width="0.9" stroke-linecap="butt"/>
<text transform="translate(417.80,242.60) scale(0.52,1)" font-size="9.6" fill="#222" stroke="#222" stroke-width="0.5">10</text>
<text transform="translate(423.20,236.80) scale(0.68,1)" font-size="9.3" fill="#222" stroke="#222" stroke-width="0.4">3</text>
<line x1="454.60" y1="222.10" x2="454.60" y2="227.10" stroke="#111" stroke-width="1.4" stroke-linecap="butt"/>
<line x1="21.20" y1="221.50" x2="21.20" y2="38.00" stroke="#111" stroke-width="2.0" stroke-linecap="butt"/>
<path d="M21.2,30.6 L25.6,40.6 L16.8,40.6 Z" fill="#0a0a0a"/>
<text transform="translate(16.00,165.80) rotate(-90)" font-size="18.6" font-weight="bold" textLength="103.6" lengthAdjust="spacingAndGlyphs">Cell number</text>
<text x="30.90" y="263.70" font-size="17.8" font-weight="bold" textLength="23.9" lengthAdjust="spacingAndGlyphs" >I-A</text>
<text transform="translate(55.50,257.10) scale(0.84,1)" font-size="12.6" font-weight="bold" style="stroke-width:0.6px">b</text>
<text x="62.00" y="263.70" font-size="17.8" font-weight="bold" textLength="71.3" lengthAdjust="spacingAndGlyphs" >(M5/114)</text>
<text x="170.00" y="264.40" font-size="17.8" font-weight="bold" textLength="21.6" lengthAdjust="spacingAndGlyphs" >I-A</text>
<text transform="translate(191.70,257.80) scale(0.84,1)" font-size="12.6" font-weight="bold" style="stroke-width:0.6px">b</text>
<text x="200.00" y="264.40" font-size="17.8" font-weight="bold" textLength="56.9" lengthAdjust="spacingAndGlyphs" >(KH74)</text>
<text x="316.50" y="265.10" font-size="17.6" font-weight="bold" textLength="45.2" lengthAdjust="spacingAndGlyphs" >CD86</text>
<line x1="135.40" y1="256.60" x2="159.80" y2="256.60" stroke="#111" stroke-width="2.1" stroke-linecap="butt"/>
<path d="M163.80,256.60 L158.00,252.90 L158.00,260.30 Z" fill="#0a0a0a"/>
<line x1="261.10" y1="260.00" x2="308.70" y2="260.00" stroke="#111" stroke-width="2.1" stroke-linecap="butt"/>
<path d="M312.70,260.00 L306.90,256.30 L306.90,263.70 Z" fill="#0a0a0a"/>
<line x1="368.90" y1="259.60" x2="459.60" y2="259.60" stroke="#111" stroke-width="2.1" stroke-linecap="butt"/>
<path d="M463.60,259.60 L456.20,255.40 L456.20,263.80 Z" fill="#0a0a0a"/>
<text x="463.50" y="44.60" font-size="13.55" >Isotype</text>
<text x="463.50" y="61.50" font-size="13.55" >control</text>
<text x="463.50" y="90.40" font-size="13.55" >Medium</text>
<text x="463.50" y="129.00" font-size="13.55" >IFN-&#947;</text>
<text x="463.50" y="168.60" font-size="13.55" >IL-4</text>
<text x="463.50" y="199.50" font-size="13.55" >IFN-&#947;</text>
<text x="463.50" y="216.30" font-size="13.55" >+ IL-4</text>
<text x="96.40" y="310.40" font-size="18" font-weight="bold" textLength="110.6" lengthAdjust="spacingAndGlyphs" >Naive T cells</text>
<text x="349.50" y="311.80" font-size="18" font-weight="bold" textLength="130.4" lengthAdjust="spacingAndGlyphs" >Effector T cells</text>
<line x1="52.00" y1="331.20" x2="52.00" y2="536.60" stroke="#111" stroke-width="2.3" stroke-linecap="butt"/>
<line x1="50.90" y1="535.50" x2="256.60" y2="535.50" stroke="#111" stroke-width="2.3" stroke-linecap="butt"/>
<line x1="45.00" y1="332.30" x2="52.00" y2="332.30" stroke="#111" stroke-width="2.2" stroke-linecap="butt"/>
<text transform="translate(43.10,337.90) scale(0.93,1)" font-size="15.3" font-weight="bold" text-anchor="end">100</text>
<line x1="45.00" y1="383.10" x2="52.00" y2="383.10" stroke="#111" stroke-width="2.2" stroke-linecap="butt"/>
<text transform="translate(43.10,388.70) scale(0.93,1)" font-size="15.3" font-weight="bold" text-anchor="end">75</text>
<line x1="45.00" y1="433.90" x2="52.00" y2="433.90" stroke="#111" stroke-width="2.2" stroke-linecap="butt"/>
<text transform="translate(43.10,439.50) scale(0.93,1)" font-size="15.3" font-weight="bold" text-anchor="end">50</text>
<line x1="45.00" y1="484.70" x2="52.00" y2="484.70" stroke="#111" stroke-width="2.2" stroke-linecap="butt"/>
<text transform="translate(43.10,490.30) scale(0.93,1)" font-size="15.3" font-weight="bold" text-anchor="end">25</text>
<line x1="45.00" y1="535.50" x2="52.00" y2="535.50" stroke="#111" stroke-width="2.2" stroke-linecap="butt"/>
<text transform="translate(43.10,541.10) scale(0.93,1)" font-size="15.3" font-weight="bold" text-anchor="end">0</text>
<line x1="72.30" y1="535.50" x2="72.30" y2="542.70" stroke="#111" stroke-width="2.2" stroke-linecap="butt"/>
<line x1="113.20" y1="535.50" x2="113.20" y2="542.70" stroke="#111" stroke-width="2.2" stroke-linecap="butt"/>
<line x1="154.10" y1="535.50" x2="154.10" y2="542.70" stroke="#111" stroke-width="2.2" stroke-linecap="butt"/>
<line x1="195.00" y1="535.50" x2="195.00" y2="542.70" stroke="#111" stroke-width="2.2" stroke-linecap="butt"/>
<line x1="235.90" y1="535.50" x2="235.90" y2="542.70" stroke="#111" stroke-width="2.2" stroke-linecap="butt"/>
<text transform="translate(16.90,491.20) rotate(-90)" font-size="18" font-weight="bold" textLength="123.6" lengthAdjust="spacingAndGlyphs">% OT-II CD69+</text>
<text x="72.30" y="557.40" font-size="14.0" text-anchor="middle" >1:1</text>
<text x="113.20" y="557.40" font-size="14.0" text-anchor="middle" >30:1</text>
<text x="154.10" y="557.40" font-size="14.0" text-anchor="middle" >10:1</text>
<text x="195.00" y="557.40" font-size="14.0" text-anchor="middle" >3:1</text>
<text x="235.90" y="557.40" font-size="14.0" text-anchor="middle" >1:1</text>
<line x1="57.00" y1="335.50" x2="81.20" y2="335.50" stroke="#111" stroke-width="2.3" stroke-linecap="butt"/>
<circle cx="68.80" cy="335.50" r="6.30" fill="#0a0a0a"/>
<line x1="57.00" y1="357.50" x2="81.20" y2="357.50" stroke="#111" stroke-width="2.3" stroke-linecap="butt"/>
<path d="M68.80,349.90 L76.00,362.50 L61.60,362.50 Z" fill="#0a0a0a"/>
<line x1="57.00" y1="378.50" x2="81.20" y2="378.50" stroke="#111" stroke-width="2.3" stroke-linecap="butt"/>
<rect x="62.80" y="372.40" width="12.20" height="12.20" fill="#0a0a0a"/>
<text x="90.00" y="340.20" font-size="14" textLength="20.0" lengthAdjust="spacingAndGlyphs" >DC</text>
<text x="90.00" y="362.20" font-size="14" textLength="41.0" lengthAdjust="spacingAndGlyphs" >PCMC</text>
<text x="131.60" y="365.60" font-size="8.8" textLength="43.5" lengthAdjust="spacingAndGlyphs" >IFN-&#947;/IL-4</text>
<text x="90.00" y="383.80" font-size="14" textLength="41.0" lengthAdjust="spacingAndGlyphs" >PCMC</text>
<polyline points="113.20,526.36 154.10,523.31 195.00,524.53 235.90,519.24" fill="none" stroke="#0a0a0a" stroke-width="2.5"/>
<polyline points="113.20,520.46 154.10,507.26 195.00,481.86 235.90,414.39" fill="none" stroke="#0a0a0a" stroke-width="2.3"/>
<line x1="195.00" y1="473.66" x2="195.00" y2="490.06" stroke="#111" stroke-width="2.3" stroke-linecap="butt"/>
<line x1="189.30" y1="473.66" x2="200.70" y2="473.66" stroke="#111" stroke-width="2.3" stroke-linecap="butt"/>
<line x1="189.30" y1="490.06" x2="200.70" y2="490.06" stroke="#111" stroke-width="2.3" stroke-linecap="butt"/>
<line x1="235.90" y1="403.09" x2="235.90" y2="425.69" stroke="#111" stroke-width="2.3" stroke-linecap="butt"/>
<line x1="230.20" y1="403.09" x2="241.60" y2="403.09" stroke="#111" stroke-width="2.3" stroke-linecap="butt"/>
<line x1="230.20" y1="425.69" x2="241.60" y2="425.69" stroke="#111" stroke-width="2.3" stroke-linecap="butt"/>
<path d="M113.20,518.97 L120.40,531.57 L106.00,531.57 Z" fill="#0a0a0a"/>
<path d="M154.10,517.34 L161.30,529.94 L146.90,529.94 Z" fill="#0a0a0a"/>
<path d="M195.00,516.12 L202.20,528.72 L187.80,528.72 Z" fill="#0a0a0a"/>
<path d="M235.90,512.26 L243.10,524.86 L228.70,524.86 Z" fill="#0a0a0a"/>
<rect x="66.30" y="523.40" width="12.00" height="12.00" fill="#0a0a0a"/>
<rect x="107.20" y="518.12" width="12.00" height="12.00" fill="#0a0a0a"/>
<rect x="148.10" y="515.48" width="12.00" height="12.00" fill="#0a0a0a"/>
<rect x="189.00" y="517.82" width="12.00" height="12.00" fill="#0a0a0a"/>
<rect x="229.90" y="518.53" width="12.00" height="12.00" fill="#0a0a0a"/>
<circle cx="72.30" cy="527.78" r="6.30" fill="#0a0a0a"/>
<circle cx="113.20" cy="520.46" r="6.30" fill="#0a0a0a"/>
<circle cx="154.10" cy="507.26" r="6.30" fill="#0a0a0a"/>
<circle cx="195.00" cy="481.86" r="6.30" fill="#0a0a0a"/>
<circle cx="235.90" cy="414.39" r="6.30" fill="#0a0a0a"/>
<line x1="312.30" y1="331.20" x2="312.30" y2="536.60" stroke="#111" stroke-width="2.3" stroke-linecap="butt"/>
<line x1="311.20" y1="535.50" x2="518.00" y2="535.50" stroke="#111" stroke-width="2.3" stroke-linecap="butt"/>
<line x1="305.30" y1="332.30" x2="312.30" y2="332.30" stroke="#111" stroke-width="2.2" stroke-linecap="butt"/>
<text transform="translate(303.40,337.90) scale(0.93,1)" font-size="15.3" font-weight="bold" text-anchor="end">100</text>
<line x1="305.30" y1="383.10" x2="312.30" y2="383.10" stroke="#111" stroke-width="2.2" stroke-linecap="butt"/>
<text transform="translate(303.40,388.70) scale(0.93,1)" font-size="15.3" font-weight="bold" text-anchor="end">75</text>
<line x1="305.30" y1="433.90" x2="312.30" y2="433.90" stroke="#111" stroke-width="2.2" stroke-linecap="butt"/>
<text transform="translate(303.40,439.50) scale(0.93,1)" font-size="15.3" font-weight="bold" text-anchor="end">50</text>
<line x1="305.30" y1="484.70" x2="312.30" y2="484.70" stroke="#111" stroke-width="2.2" stroke-linecap="butt"/>
<text transform="translate(303.40,490.30) scale(0.93,1)" font-size="15.3" font-weight="bold" text-anchor="end">25</text>
<line x1="305.30" y1="535.50" x2="312.30" y2="535.50" stroke="#111" stroke-width="2.2" stroke-linecap="butt"/>
<text transform="translate(303.40,541.10) scale(0.93,1)" font-size="15.3" font-weight="bold" text-anchor="end">0</text>
<line x1="333.40" y1="535.50" x2="333.40" y2="542.70" stroke="#111" stroke-width="2.2" stroke-linecap="butt"/>
<line x1="374.00" y1="535.50" x2="374.00" y2="542.70" stroke="#111" stroke-width="2.2" stroke-linecap="butt"/>
<line x1="414.60" y1="535.50" x2="414.60" y2="542.70" stroke="#111" stroke-width="2.2" stroke-linecap="butt"/>
<line x1="455.40" y1="535.50" x2="455.40" y2="542.70" stroke="#111" stroke-width="2.2" stroke-linecap="butt"/>
<line x1="496.20" y1="535.50" x2="496.20" y2="542.70" stroke="#111" stroke-width="2.2" stroke-linecap="butt"/>
<text transform="translate(277.00,491.20) rotate(-90)" font-size="18" font-weight="bold" textLength="123.6" lengthAdjust="spacingAndGlyphs">% OT-II CD69+</text>
<text x="333.40" y="557.40" font-size="14.0" text-anchor="middle" >1:1</text>
<text x="374.00" y="557.40" font-size="14.0" text-anchor="middle" >30:1</text>
<text x="414.60" y="557.40" font-size="14.0" text-anchor="middle" >10:1</text>
<text x="455.40" y="557.40" font-size="14.0" text-anchor="middle" >3:1</text>
<text x="496.20" y="557.40" font-size="14.0" text-anchor="middle" >1:1</text>
<line x1="316.00" y1="338.20" x2="338.50" y2="338.20" stroke="#111" stroke-width="2.3" stroke-linecap="butt"/>
<circle cx="327.20" cy="338.20" r="5.10" fill="#fff" stroke="#0a0a0a" stroke-width="2.45"/>
<line x1="316.00" y1="359.60" x2="338.50" y2="359.60" stroke="#111" stroke-width="2.3" stroke-linecap="butt"/>
<path d="M327.20,353.40 L332.90,363.80 L321.50,363.80 Z" fill="#fff" stroke="#0a0a0a" stroke-width="2.3" stroke-linejoin="miter"/>
<line x1="316.00" y1="380.40" x2="338.50" y2="380.40" stroke="#111" stroke-width="2.3" stroke-linecap="butt"/>
<rect x="322.10" y="375.30" width="10.20" height="10.20" fill="#fff" stroke="#0a0a0a" stroke-width="2.4"/>
<text x="348.00" y="342.40" font-size="14" textLength="20.0" lengthAdjust="spacingAndGlyphs" >DC</text>
<text x="348.00" y="363.90" font-size="14" textLength="41.0" lengthAdjust="spacingAndGlyphs" >PCMC</text>
<text x="389.60" y="367.30" font-size="8.8" textLength="43.5" lengthAdjust="spacingAndGlyphs" >IFN-&#947;/IL-4</text>
<text x="348.00" y="385.00" font-size="14" textLength="41.0" lengthAdjust="spacingAndGlyphs" >PCMC</text>
<polyline points="374.00,500.75 414.60,498.11 455.40,493.03 496.20,493.03" fill="none" stroke="#0a0a0a" stroke-width="2.3"/>
<polyline points="374.00,485.11 414.60,470.88 455.40,451.78 496.20,434.71" fill="none" stroke="#0a0a0a" stroke-width="2.3"/>
<polyline points="374.00,442.84 414.60,410.74 455.40,385.13 496.20,366.84" fill="none" stroke="#0a0a0a" stroke-width="2.3"/>
<line x1="374.00" y1="488.75" x2="374.00" y2="512.75" stroke="#111" stroke-width="2.3" stroke-linecap="butt"/>
<line x1="368.30" y1="488.75" x2="379.70" y2="488.75" stroke="#111" stroke-width="2.3" stroke-linecap="butt"/>
<line x1="368.30" y1="512.75" x2="379.70" y2="512.75" stroke="#111" stroke-width="2.3" stroke-linecap="butt"/>
<line x1="374.00" y1="473.61" x2="374.00" y2="496.61" stroke="#111" stroke-width="2.3" stroke-linecap="butt"/>
<line x1="368.30" y1="473.61" x2="379.70" y2="473.61" stroke="#111" stroke-width="2.3" stroke-linecap="butt"/>
<line x1="368.30" y1="496.61" x2="379.70" y2="496.61" stroke="#111" stroke-width="2.3" stroke-linecap="butt"/>
<line x1="374.00" y1="428.44" x2="374.00" y2="457.24" stroke="#111" stroke-width="2.3" stroke-linecap="butt"/>
<line x1="368.30" y1="428.44" x2="379.70" y2="428.44" stroke="#111" stroke-width="2.3" stroke-linecap="butt"/>
<line x1="368.30" y1="457.24" x2="379.70" y2="457.24" stroke="#111" stroke-width="2.3" stroke-linecap="butt"/>
<line x1="414.60" y1="485.81" x2="414.60" y2="510.41" stroke="#111" stroke-width="2.3" stroke-linecap="butt"/>
<line x1="408.90" y1="485.81" x2="420.30" y2="485.81" stroke="#111" stroke-width="2.3" stroke-linecap="butt"/>
<line x1="408.90" y1="510.41" x2="420.30" y2="510.41" stroke="#111" stroke-width="2.3" stroke-linecap="butt"/>
<line x1="414.60" y1="456.08" x2="414.60" y2="485.68" stroke="#111" stroke-width="2.3" stroke-linecap="butt"/>
<line x1="408.90" y1="456.08" x2="420.30" y2="456.08" stroke="#111" stroke-width="2.3" stroke-linecap="butt"/>
<line x1="408.90" y1="485.68" x2="420.30" y2="485.68" stroke="#111" stroke-width="2.3" stroke-linecap="butt"/>
<line x1="414.60" y1="395.24" x2="414.60" y2="426.24" stroke="#111" stroke-width="2.3" stroke-linecap="butt"/>
<line x1="408.90" y1="395.24" x2="420.30" y2="395.24" stroke="#111" stroke-width="2.3" stroke-linecap="butt"/>
<line x1="408.90" y1="426.24" x2="420.30" y2="426.24" stroke="#111" stroke-width="2.3" stroke-linecap="butt"/>
<line x1="455.40" y1="477.63" x2="455.40" y2="508.43" stroke="#111" stroke-width="2.3" stroke-linecap="butt"/>
<line x1="449.70" y1="477.63" x2="461.10" y2="477.63" stroke="#111" stroke-width="2.3" stroke-linecap="butt"/>
<line x1="449.70" y1="508.43" x2="461.10" y2="508.43" stroke="#111" stroke-width="2.3" stroke-linecap="butt"/>
<line x1="455.40" y1="439.08" x2="455.40" y2="464.48" stroke="#111" stroke-width="2.3" stroke-linecap="butt"/>
<line x1="449.70" y1="439.08" x2="461.10" y2="439.08" stroke="#111" stroke-width="2.3" stroke-linecap="butt"/>
<line x1="449.70" y1="464.48" x2="461.10" y2="464.48" stroke="#111" stroke-width="2.3" stroke-linecap="butt"/>
<line x1="455.40" y1="371.43" x2="455.40" y2="398.83" stroke="#111" stroke-width="2.3" stroke-linecap="butt"/>
<line x1="449.70" y1="371.43" x2="461.10" y2="371.43" stroke="#111" stroke-width="2.3" stroke-linecap="butt"/>
<line x1="449.70" y1="398.83" x2="461.10" y2="398.83" stroke="#111" stroke-width="2.3" stroke-linecap="butt"/>
<line x1="496.20" y1="478.23" x2="496.20" y2="507.83" stroke="#111" stroke-width="2.3" stroke-linecap="butt"/>
<line x1="490.50" y1="478.23" x2="501.90" y2="478.23" stroke="#111" stroke-width="2.3" stroke-linecap="butt"/>
<line x1="490.50" y1="507.83" x2="501.90" y2="507.83" stroke="#111" stroke-width="2.3" stroke-linecap="butt"/>
<line x1="496.20" y1="426.21" x2="496.20" y2="443.21" stroke="#111" stroke-width="2.3" stroke-linecap="butt"/>
<line x1="490.50" y1="426.21" x2="501.90" y2="426.21" stroke="#111" stroke-width="2.3" stroke-linecap="butt"/>
<line x1="490.50" y1="443.21" x2="501.90" y2="443.21" stroke="#111" stroke-width="2.3" stroke-linecap="butt"/>
<line x1="496.20" y1="355.84" x2="496.20" y2="377.84" stroke="#111" stroke-width="2.3" stroke-linecap="butt"/>
<line x1="490.50" y1="355.84" x2="501.90" y2="355.84" stroke="#111" stroke-width="2.3" stroke-linecap="butt"/>
<line x1="490.50" y1="377.84" x2="501.90" y2="377.84" stroke="#111" stroke-width="2.3" stroke-linecap="butt"/>
<line x1="333.40" y1="477.70" x2="333.40" y2="490.90" stroke="#111" stroke-width="2.3" stroke-linecap="butt"/>
<line x1="327.70" y1="477.70" x2="339.10" y2="477.70" stroke="#111" stroke-width="2.3" stroke-linecap="butt"/>
<line x1="328.20" y1="490.90" x2="338.60" y2="490.90" stroke="#111" stroke-width="2.8" stroke-linecap="butt"/>
<rect x="369.30" y="496.05" width="9.40" height="9.40" fill="#fff" stroke="#0a0a0a" stroke-width="2.4"/>
<rect x="409.90" y="493.41" width="9.40" height="9.40" fill="#fff" stroke="#0a0a0a" stroke-width="2.4"/>
<rect x="450.70" y="488.33" width="9.40" height="9.40" fill="#fff" stroke="#0a0a0a" stroke-width="2.4"/>
<rect x="491.50" y="488.33" width="9.40" height="9.40" fill="#fff" stroke="#0a0a0a" stroke-width="2.4"/>
<path d="M333.40,496.00 L339.10,508.00 L327.70,508.00 Z" fill="#fff" stroke="#0a0a0a" stroke-width="2.3" stroke-linejoin="miter"/>
<circle cx="333.40" cy="499.40" r="5.10" fill="none" stroke="#0a0a0a" stroke-width="2.45"/>
<path d="M374.00,479.31 L379.70,489.71 L368.30,489.71 Z" fill="#fff" stroke="#0a0a0a" stroke-width="2.3" stroke-linejoin="miter"/>
<path d="M414.60,465.08 L420.30,475.48 L408.90,475.48 Z" fill="#fff" stroke="#0a0a0a" stroke-width="2.3" stroke-linejoin="miter"/>
<path d="M455.40,445.98 L461.10,456.38 L449.70,456.38 Z" fill="#fff" stroke="#0a0a0a" stroke-width="2.3" stroke-linejoin="miter"/>
<path d="M496.20,428.91 L501.90,439.31 L490.50,439.31 Z" fill="#fff" stroke="#0a0a0a" stroke-width="2.3" stroke-linejoin="miter"/>
<circle cx="374.00" cy="442.84" r="5.10" fill="#fff" stroke="#0a0a0a" stroke-width="2.45"/>
<circle cx="414.60" cy="410.74" r="5.10" fill="#fff" stroke="#0a0a0a" stroke-width="2.45"/>
<circle cx="455.40" cy="385.13" r="5.10" fill="#fff" stroke="#0a0a0a" stroke-width="2.45"/>
<circle cx="496.20" cy="366.84" r="5.10" fill="#fff" stroke="#0a0a0a" stroke-width="2.45"/>
<line x1="52.00" y1="573.70" x2="52.00" y2="778.40" stroke="#111" stroke-width="2.3" stroke-linecap="butt"/>
<line x1="50.90" y1="777.30" x2="256.60" y2="777.30" stroke="#111" stroke-width="2.3" stroke-linecap="butt"/>
<line x1="45.00" y1="574.80" x2="52.00" y2="574.80" stroke="#111" stroke-width="2.2" stroke-linecap="butt"/>
<text transform="translate(43.10,580.40) scale(0.93,1)" font-size="15.3" font-weight="bold" text-anchor="end">100</text>
<line x1="45.00" y1="625.42" x2="52.00" y2="625.42" stroke="#111" stroke-width="2.2" stroke-linecap="butt"/>
<text transform="translate(43.10,631.02) scale(0.93,1)" font-size="15.3" font-weight="bold" text-anchor="end">75</text>
<line x1="45.00" y1="676.05" x2="52.00" y2="676.05" stroke="#111" stroke-width="2.2" stroke-linecap="butt"/>
<text transform="translate(43.10,681.65) scale(0.93,1)" font-size="15.3" font-weight="bold" text-anchor="end">50</text>
<line x1="45.00" y1="726.67" x2="52.00" y2="726.67" stroke="#111" stroke-width="2.2" stroke-linecap="butt"/>
<text transform="translate(43.10,732.27) scale(0.93,1)" font-size="15.3" font-weight="bold" text-anchor="end">25</text>
<line x1="45.00" y1="777.30" x2="52.00" y2="777.30" stroke="#111" stroke-width="2.2" stroke-linecap="butt"/>
<text transform="translate(43.10,782.90) scale(0.93,1)" font-size="15.3" font-weight="bold" text-anchor="end">0</text>
<line x1="72.30" y1="777.30" x2="72.30" y2="784.50" stroke="#111" stroke-width="2.2" stroke-linecap="butt"/>
<line x1="113.20" y1="777.30" x2="113.20" y2="784.50" stroke="#111" stroke-width="2.2" stroke-linecap="butt"/>
<line x1="154.10" y1="777.30" x2="154.10" y2="784.50" stroke="#111" stroke-width="2.2" stroke-linecap="butt"/>
<line x1="195.00" y1="777.30" x2="195.00" y2="784.50" stroke="#111" stroke-width="2.2" stroke-linecap="butt"/>
<line x1="235.90" y1="777.30" x2="235.90" y2="784.50" stroke="#111" stroke-width="2.2" stroke-linecap="butt"/>
<text transform="translate(17.00,753.20) rotate(-90)" font-size="17.6" font-weight="bold" textLength="159.4" lengthAdjust="spacingAndGlyphs">% proliferating OT-II</text>
<text x="72.30" y="799.40" font-size="14.0" text-anchor="middle" >1:1</text>
<text x="113.20" y="799.40" font-size="14.0" text-anchor="middle" >30:1</text>
<text x="154.10" y="799.40" font-size="14.0" text-anchor="middle" >10:1</text>
<text x="195.00" y="799.40" font-size="14.0" text-anchor="middle" >3:1</text>
<text x="235.90" y="799.40" font-size="14.0" text-anchor="middle" >1:1</text>
<polyline points="113.20,699.74 154.10,668.36 195.00,633.73 235.90,632.31" fill="none" stroke="#0a0a0a" stroke-width="2.3"/>
<polyline points="113.20,768.59 154.10,768.59 195.00,761.91 235.90,765.15" fill="none" stroke="#0a0a0a" stroke-width="2.3"/>
<line x1="113.20" y1="685.24" x2="113.20" y2="714.24" stroke="#111" stroke-width="2.3" stroke-linecap="butt"/>
<line x1="107.50" y1="685.24" x2="118.90" y2="685.24" stroke="#111" stroke-width="2.3" stroke-linecap="butt"/>
<line x1="107.50" y1="714.24" x2="118.90" y2="714.24" stroke="#111" stroke-width="2.3" stroke-linecap="butt"/>
<line x1="195.00" y1="622.73" x2="195.00" y2="644.73" stroke="#111" stroke-width="2.3" stroke-linecap="butt"/>
<line x1="189.30" y1="622.73" x2="200.70" y2="622.73" stroke="#111" stroke-width="2.3" stroke-linecap="butt"/>
<line x1="189.30" y1="644.73" x2="200.70" y2="644.73" stroke="#111" stroke-width="2.3" stroke-linecap="butt"/>
<line x1="235.90" y1="620.31" x2="235.90" y2="644.31" stroke="#111" stroke-width="2.3" stroke-linecap="butt"/>
<line x1="230.20" y1="620.31" x2="241.60" y2="620.31" stroke="#111" stroke-width="2.3" stroke-linecap="butt"/>
<line x1="230.20" y1="644.31" x2="241.60" y2="644.31" stroke="#111" stroke-width="2.3" stroke-linecap="butt"/>
<line x1="72.30" y1="751.45" x2="72.30" y2="757.45" stroke="#111" stroke-width="2.3" stroke-linecap="butt"/>
<line x1="66.60" y1="751.45" x2="78.00" y2="751.45" stroke="#111" stroke-width="2.3" stroke-linecap="butt"/>
<line x1="113.20" y1="761.19" x2="113.20" y2="768.59" stroke="#111" stroke-width="2.3" stroke-linecap="butt"/>
<line x1="107.50" y1="761.19" x2="118.90" y2="761.19" stroke="#111" stroke-width="2.3" stroke-linecap="butt"/>
<line x1="154.10" y1="761.19" x2="154.10" y2="768.59" stroke="#111" stroke-width="2.3" stroke-linecap="butt"/>
<line x1="148.40" y1="761.19" x2="159.80" y2="761.19" stroke="#111" stroke-width="2.3" stroke-linecap="butt"/>
<line x1="235.90" y1="755.15" x2="235.90" y2="765.15" stroke="#111" stroke-width="2.3" stroke-linecap="butt"/>
<line x1="230.20" y1="755.15" x2="241.60" y2="755.15" stroke="#111" stroke-width="2.3" stroke-linecap="butt"/>
<path d="M72.30,755.12 L79.50,767.73 L65.10,767.73 Z" fill="#0a0a0a"/>
<path d="M113.20,763.39 L120.40,775.99 L106.00,775.99 Z" fill="#0a0a0a"/>
<path d="M154.10,763.39 L161.30,775.99 L146.90,775.99 Z" fill="#0a0a0a"/>
<path d="M195.00,754.72 L202.20,767.32 L187.80,767.32 Z" fill="#0a0a0a"/>
<rect x="66.30" y="761.17" width="12.00" height="12.00" fill="#0a0a0a"/>
<rect x="148.10" y="769.68" width="12.00" height="12.00" fill="#0a0a0a"/>
<rect x="229.90" y="759.15" width="12.00" height="12.00" fill="#0a0a0a"/>
<rect x="189.00" y="754.40" width="12.00" height="12.00" fill="#0a0a0a"/>
<rect x="189.00" y="757.70" width="12.00" height="12.00" fill="#0a0a0a"/>
<circle cx="72.30" cy="757.45" r="6.30" fill="#0a0a0a"/>
<circle cx="113.20" cy="699.74" r="6.30" fill="#0a0a0a"/>
<circle cx="154.10" cy="668.36" r="6.30" fill="#0a0a0a"/>
<circle cx="195.00" cy="633.73" r="6.30" fill="#0a0a0a"/>
<circle cx="235.90" cy="632.31" r="6.30" fill="#0a0a0a"/>
<line x1="314.30" y1="569.90" x2="314.30" y2="775.40" stroke="#111" stroke-width="2.3" stroke-linecap="butt"/>
<line x1="313.20" y1="774.30" x2="519.00" y2="774.30" stroke="#111" stroke-width="2.3" stroke-linecap="butt"/>
<line x1="307.30" y1="571.00" x2="314.30" y2="571.00" stroke="#111" stroke-width="2.2" stroke-linecap="butt"/>
<text transform="translate(305.40,576.60) scale(0.93,1)" font-size="15.3" font-weight="bold" text-anchor="end">100</text>
<line x1="307.30" y1="611.66" x2="314.30" y2="611.66" stroke="#111" stroke-width="2.2" stroke-linecap="butt"/>
<text transform="translate(305.40,617.26) scale(0.93,1)" font-size="15.3" font-weight="bold" text-anchor="end">80</text>
<line x1="307.30" y1="652.32" x2="314.30" y2="652.32" stroke="#111" stroke-width="2.2" stroke-linecap="butt"/>
<text transform="translate(305.40,657.92) scale(0.93,1)" font-size="15.3" font-weight="bold" text-anchor="end">60</text>
<line x1="307.30" y1="692.98" x2="314.30" y2="692.98" stroke="#111" stroke-width="2.2" stroke-linecap="butt"/>
<text transform="translate(305.40,698.58) scale(0.93,1)" font-size="15.3" font-weight="bold" text-anchor="end">40</text>
<line x1="307.30" y1="733.64" x2="314.30" y2="733.64" stroke="#111" stroke-width="2.2" stroke-linecap="butt"/>
<text transform="translate(305.40,739.24) scale(0.93,1)" font-size="15.3" font-weight="bold" text-anchor="end">20</text>
<line x1="307.30" y1="774.30" x2="314.30" y2="774.30" stroke="#111" stroke-width="2.2" stroke-linecap="butt"/>
<text transform="translate(305.40,779.90) scale(0.93,1)" font-size="15.3" font-weight="bold" text-anchor="end">0</text>
<line x1="334.70" y1="774.30" x2="334.70" y2="781.50" stroke="#111" stroke-width="2.2" stroke-linecap="butt"/>
<line x1="375.40" y1="774.30" x2="375.40" y2="781.50" stroke="#111" stroke-width="2.2" stroke-linecap="butt"/>
<line x1="416.10" y1="774.30" x2="416.10" y2="781.50" stroke="#111" stroke-width="2.2" stroke-linecap="butt"/>
<line x1="456.90" y1="774.30" x2="456.90" y2="781.50" stroke="#111" stroke-width="2.2" stroke-linecap="butt"/>
<line x1="497.80" y1="774.30" x2="497.80" y2="781.50" stroke="#111" stroke-width="2.2" stroke-linecap="butt"/>
<text transform="translate(278.40,751.20) rotate(-90)" font-size="17.6" font-weight="bold" textLength="160.0" lengthAdjust="spacingAndGlyphs">% proliferating OT-II</text>
<text x="334.70" y="797.40" font-size="14.0" text-anchor="middle" >1:1</text>
<text x="375.40" y="797.40" font-size="14.0" text-anchor="middle" >30:1</text>
<text x="416.10" y="797.40" font-size="14.0" text-anchor="middle" >10:1</text>
<text x="456.90" y="797.40" font-size="14.0" text-anchor="middle" >3:1</text>
<text x="497.80" y="797.40" font-size="14.0" text-anchor="middle" >1:1</text>
<polyline points="375.40,768.40 416.10,767.39 456.90,763.53 497.80,759.26" fill="none" stroke="#0a0a0a" stroke-width="2.3"/>
<polyline points="375.40,727.54 416.10,699.69 456.90,672.04 497.80,647.03" fill="none" stroke="#0a0a0a" stroke-width="2.3"/>
<polyline points="375.40,686.07 416.10,645.41 456.90,617.76 497.80,585.03" fill="none" stroke="#0a0a0a" stroke-width="2.3"/>
<line x1="375.40" y1="713.74" x2="375.40" y2="741.34" stroke="#111" stroke-width="2.3" stroke-linecap="butt"/>
<line x1="369.70" y1="713.74" x2="381.10" y2="713.74" stroke="#111" stroke-width="2.3" stroke-linecap="butt"/>
<line x1="369.70" y1="741.34" x2="381.10" y2="741.34" stroke="#111" stroke-width="2.3" stroke-linecap="butt"/>
<line x1="375.40" y1="663.27" x2="375.40" y2="708.87" stroke="#111" stroke-width="2.3" stroke-linecap="butt"/>
<line x1="369.70" y1="663.27" x2="381.10" y2="663.27" stroke="#111" stroke-width="2.3" stroke-linecap="butt"/>
<line x1="369.70" y1="708.87" x2="381.10" y2="708.87" stroke="#111" stroke-width="2.3" stroke-linecap="butt"/>
<line x1="416.10" y1="683.19" x2="416.10" y2="716.19" stroke="#111" stroke-width="2.3" stroke-linecap="butt"/>
<line x1="410.40" y1="683.19" x2="421.80" y2="683.19" stroke="#111" stroke-width="2.3" stroke-linecap="butt"/>
<line x1="410.40" y1="716.19" x2="421.80" y2="716.19" stroke="#111" stroke-width="2.3" stroke-linecap="butt"/>
<line x1="416.10" y1="630.21" x2="416.10" y2="660.61" stroke="#111" stroke-width="2.3" stroke-linecap="butt"/>
<line x1="410.40" y1="630.21" x2="421.80" y2="630.21" stroke="#111" stroke-width="2.3" stroke-linecap="butt"/>
<line x1="410.40" y1="660.61" x2="421.80" y2="660.61" stroke="#111" stroke-width="2.3" stroke-linecap="butt"/>
<line x1="456.90" y1="659.34" x2="456.90" y2="684.74" stroke="#111" stroke-width="2.3" stroke-linecap="butt"/>
<line x1="451.20" y1="659.34" x2="462.60" y2="659.34" stroke="#111" stroke-width="2.3" stroke-linecap="butt"/>
<line x1="451.20" y1="684.74" x2="462.60" y2="684.74" stroke="#111" stroke-width="2.3" stroke-linecap="butt"/>
<line x1="456.90" y1="600.76" x2="456.90" y2="634.76" stroke="#111" stroke-width="2.3" stroke-linecap="butt"/>
<line x1="451.20" y1="600.76" x2="462.60" y2="600.76" stroke="#111" stroke-width="2.3" stroke-linecap="butt"/>
<line x1="451.20" y1="634.76" x2="462.60" y2="634.76" stroke="#111" stroke-width="2.3" stroke-linecap="butt"/>
<line x1="497.80" y1="633.43" x2="497.80" y2="660.63" stroke="#111" stroke-width="2.3" stroke-linecap="butt"/>
<line x1="492.10" y1="633.43" x2="503.50" y2="633.43" stroke="#111" stroke-width="2.3" stroke-linecap="butt"/>
<line x1="492.10" y1="660.63" x2="503.50" y2="660.63" stroke="#111" stroke-width="2.3" stroke-linecap="butt"/>
<line x1="497.80" y1="576.53" x2="497.80" y2="593.53" stroke="#111" stroke-width="2.3" stroke-linecap="butt"/>
<line x1="492.10" y1="576.53" x2="503.50" y2="576.53" stroke="#111" stroke-width="2.3" stroke-linecap="butt"/>
<line x1="492.10" y1="593.53" x2="503.50" y2="593.53" stroke="#111" stroke-width="2.3" stroke-linecap="butt"/>
<line x1="497.80" y1="752.66" x2="497.80" y2="759.26" stroke="#111" stroke-width="2.3" stroke-linecap="butt"/>
<line x1="492.10" y1="752.66" x2="503.50" y2="752.66" stroke="#111" stroke-width="2.3" stroke-linecap="butt"/>
<rect x="330.00" y="762.69" width="9.40" height="9.40" fill="#fff" stroke="#0a0a0a" stroke-width="2.4"/>
<rect x="370.70" y="763.70" width="9.40" height="9.40" fill="#fff" stroke="#0a0a0a" stroke-width="2.4"/>
<rect x="411.40" y="762.69" width="9.40" height="9.40" fill="#fff" stroke="#0a0a0a" stroke-width="2.4"/>
<rect x="452.20" y="758.83" width="9.40" height="9.40" fill="#fff" stroke="#0a0a0a" stroke-width="2.4"/>
<rect x="493.10" y="754.56" width="9.40" height="9.40" fill="#fff" stroke="#0a0a0a" stroke-width="2.4"/>
<path d="M375.40,722.14 L380.80,731.94 L370.00,731.94 Z" fill="#fff" stroke="#0a0a0a" stroke-width="2.3" stroke-linejoin="miter"/>
<path d="M416.10,694.29 L421.50,704.09 L410.70,704.09 Z" fill="#fff" stroke="#0a0a0a" stroke-width="2.3" stroke-linejoin="miter"/>
<path d="M456.90,666.64 L462.30,676.44 L451.50,676.44 Z" fill="#fff" stroke="#0a0a0a" stroke-width="2.3" stroke-linejoin="miter"/>
<path d="M497.80,641.63 L503.20,651.43 L492.40,651.43 Z" fill="#fff" stroke="#0a0a0a" stroke-width="2.3" stroke-linejoin="miter"/>
<circle cx="334.70" cy="747.26" r="4.90" fill="#fff" stroke="#0a0a0a" stroke-width="2.45"/>
<circle cx="375.40" cy="686.07" r="4.90" fill="#fff" stroke="#0a0a0a" stroke-width="2.45"/>
<circle cx="416.10" cy="645.41" r="4.90" fill="#fff" stroke="#0a0a0a" stroke-width="2.45"/>
<circle cx="456.90" cy="617.76" r="4.90" fill="#fff" stroke="#0a0a0a" stroke-width="2.45"/>
<circle cx="497.80" cy="585.03" r="4.90" fill="#fff" stroke="#0a0a0a" stroke-width="2.45"/>
<line x1="52.00" y1="812.80" x2="52.00" y2="1017.40" stroke="#111" stroke-width="2.3" stroke-linecap="butt"/>
<line x1="50.90" y1="1016.30" x2="257.00" y2="1016.30" stroke="#111" stroke-width="2.3" stroke-linecap="butt"/>
<line x1="45.00" y1="813.90" x2="52.00" y2="813.90" stroke="#111" stroke-width="2.2" stroke-linecap="butt"/>
<text transform="translate(43.10,819.50) scale(0.93,1)" font-size="15.3" font-weight="bold" text-anchor="end">8</text>
<line x1="45.00" y1="864.50" x2="52.00" y2="864.50" stroke="#111" stroke-width="2.2" stroke-linecap="butt"/>
<text transform="translate(43.10,870.10) scale(0.93,1)" font-size="15.3" font-weight="bold" text-anchor="end">6</text>
<line x1="45.00" y1="915.10" x2="52.00" y2="915.10" stroke="#111" stroke-width="2.2" stroke-linecap="butt"/>
<text transform="translate(43.10,920.70) scale(0.93,1)" font-size="15.3" font-weight="bold" text-anchor="end">4</text>
<line x1="45.00" y1="965.70" x2="52.00" y2="965.70" stroke="#111" stroke-width="2.2" stroke-linecap="butt"/>
<text transform="translate(43.10,971.30) scale(0.93,1)" font-size="15.3" font-weight="bold" text-anchor="end">2</text>
<line x1="45.00" y1="1016.30" x2="52.00" y2="1016.30" stroke="#111" stroke-width="2.2" stroke-linecap="butt"/>
<text transform="translate(43.10,1021.90) scale(0.93,1)" font-size="15.3" font-weight="bold" text-anchor="end">0</text>
<line x1="72.30" y1="1016.30" x2="72.30" y2="1023.50" stroke="#111" stroke-width="2.2" stroke-linecap="butt"/>
<line x1="113.20" y1="1016.30" x2="113.20" y2="1023.50" stroke="#111" stroke-width="2.2" stroke-linecap="butt"/>
<line x1="154.10" y1="1016.30" x2="154.10" y2="1023.50" stroke="#111" stroke-width="2.2" stroke-linecap="butt"/>
<line x1="195.00" y1="1016.30" x2="195.00" y2="1023.50" stroke="#111" stroke-width="2.2" stroke-linecap="butt"/>
<line x1="235.90" y1="1016.30" x2="235.90" y2="1023.50" stroke="#111" stroke-width="2.2" stroke-linecap="butt"/>
<text transform="translate(18.00,968.80) rotate(-90)" font-size="18" font-weight="bold" textLength="31.3" lengthAdjust="spacingAndGlyphs">IFN-</text>
<text transform="translate(17.20,937.20) rotate(-90)" font-size="12.5">&#947;</text>
<text transform="translate(18.00,923.20) rotate(-90)" font-size="18" font-weight="bold" textLength="66.8" lengthAdjust="spacingAndGlyphs">(ng/mL)</text>
<text x="72.30" y="1037.60" font-size="14.0" text-anchor="middle" >1:1</text>
<text x="113.20" y="1037.60" font-size="14.0" text-anchor="middle" >30:1</text>
<text x="154.10" y="1037.60" font-size="14.0" text-anchor="middle" >10:1</text>
<text x="195.00" y="1037.60" font-size="14.0" text-anchor="middle" >3:1</text>
<text x="235.90" y="1037.60" font-size="14.0" text-anchor="middle" >1:1</text>
<polyline points="113.20,1016.30 154.10,996.31 195.00,961.90 235.90,875.38" fill="none" stroke="#0a0a0a" stroke-width="2.3"/>
<line x1="154.10" y1="989.31" x2="154.10" y2="1003.31" stroke="#111" stroke-width="2.3" stroke-linecap="butt"/>
<line x1="148.40" y1="989.31" x2="159.80" y2="989.31" stroke="#111" stroke-width="2.3" stroke-linecap="butt"/>
<line x1="148.40" y1="1003.31" x2="159.80" y2="1003.31" stroke="#111" stroke-width="2.3" stroke-linecap="butt"/>
<line x1="195.00" y1="955.30" x2="195.00" y2="968.50" stroke="#111" stroke-width="2.3" stroke-linecap="butt"/>
<line x1="189.30" y1="955.30" x2="200.70" y2="955.30" stroke="#111" stroke-width="2.3" stroke-linecap="butt"/>
<line x1="189.30" y1="968.50" x2="200.70" y2="968.50" stroke="#111" stroke-width="2.3" stroke-linecap="butt"/>
<line x1="235.90" y1="856.38" x2="235.90" y2="894.38" stroke="#111" stroke-width="2.3" stroke-linecap="butt"/>
<line x1="230.20" y1="856.38" x2="241.60" y2="856.38" stroke="#111" stroke-width="2.3" stroke-linecap="butt"/>
<line x1="230.20" y1="894.38" x2="241.60" y2="894.38" stroke="#111" stroke-width="2.3" stroke-linecap="butt"/>
<rect x="66.20" y="1010.20" width="12.20" height="12.20" fill="#0a0a0a"/>
<rect x="107.10" y="1010.20" width="12.20" height="12.20" fill="#0a0a0a"/>
<rect x="148.00" y="1010.20" width="12.20" height="12.20" fill="#0a0a0a"/>
<rect x="188.90" y="1010.20" width="12.20" height="12.20" fill="#0a0a0a"/>
<rect x="229.80" y="1010.20" width="12.20" height="12.20" fill="#0a0a0a"/>
<circle cx="154.10" cy="996.31" r="6.00" fill="#0a0a0a"/>
<circle cx="195.00" cy="961.90" r="6.00" fill="#0a0a0a"/>
<circle cx="235.90" cy="875.38" r="6.00" fill="#0a0a0a"/>
<text transform="translate(66.70,1002.30) scale(0.97,1)" font-size="12.2" style="stroke-width:0.15px">n</text>
<text transform="translate(74.40,1002.30) scale(0.97,1)" font-size="12.2" style="stroke-width:0.15px">d</text>
<text transform="translate(107.60,1002.30) scale(0.97,1)" font-size="12.2" style="stroke-width:0.15px">n</text>
<text transform="translate(115.30,1002.30) scale(0.97,1)" font-size="12.2" style="stroke-width:0.15px">d</text>
<text transform="translate(189.40,1002.30) scale(0.97,1)" font-size="12.2" style="stroke-width:0.15px">n</text>
<text transform="translate(197.10,1002.30) scale(0.97,1)" font-size="12.2" style="stroke-width:0.15px">d</text>
<text transform="translate(230.30,1002.30) scale(0.97,1)" font-size="12.2" style="stroke-width:0.15px">n</text>
<text transform="translate(238.00,1002.30) scale(0.97,1)" font-size="12.2" style="stroke-width:0.15px">d</text>
<line x1="97.50" y1="1046.80" x2="244.60" y2="1046.80" stroke="#111" stroke-width="2.0" stroke-linecap="butt"/>
<line x1="47.00" y1="1071.90" x2="260.30" y2="1071.90" stroke="#111" stroke-width="2.0" stroke-linecap="butt"/>
<text x="43.00" y="1063.70" font-size="14.6" font-weight="bold" textLength="45.8" lengthAdjust="spacingAndGlyphs" >-OVAp</text>
<text x="149.00" y="1063.40" font-size="14.6" font-weight="bold" textLength="48.6" lengthAdjust="spacingAndGlyphs" >+OVAp</text>
<text x="83.80" y="1096.40" font-size="18" font-weight="bold" textLength="132.4" lengthAdjust="spacingAndGlyphs" >Ratio OT-II:APC</text>
<line x1="314.50" y1="814.60" x2="314.50" y2="1019.10" stroke="#111" stroke-width="2.3" stroke-linecap="butt"/>
<line x1="313.40" y1="1018.00" x2="519.00" y2="1018.00" stroke="#111" stroke-width="2.3" stroke-linecap="butt"/>
<line x1="307.50" y1="815.70" x2="314.50" y2="815.70" stroke="#111" stroke-width="2.2" stroke-linecap="butt"/>
<text transform="translate(305.60,821.30) scale(0.93,1)" font-size="15.3" font-weight="bold" text-anchor="end">70</text>
<line x1="307.50" y1="844.60" x2="314.50" y2="844.60" stroke="#111" stroke-width="2.2" stroke-linecap="butt"/>
<text transform="translate(305.60,850.20) scale(0.93,1)" font-size="15.3" font-weight="bold" text-anchor="end">60</text>
<line x1="307.50" y1="873.50" x2="314.50" y2="873.50" stroke="#111" stroke-width="2.2" stroke-linecap="butt"/>
<text transform="translate(305.60,879.10) scale(0.93,1)" font-size="15.3" font-weight="bold" text-anchor="end">50</text>
<line x1="307.50" y1="902.40" x2="314.50" y2="902.40" stroke="#111" stroke-width="2.2" stroke-linecap="butt"/>
<text transform="translate(305.60,908.00) scale(0.93,1)" font-size="15.3" font-weight="bold" text-anchor="end">40</text>
<line x1="307.50" y1="931.30" x2="314.50" y2="931.30" stroke="#111" stroke-width="2.2" stroke-linecap="butt"/>
<text transform="translate(305.60,936.90) scale(0.93,1)" font-size="15.3" font-weight="bold" text-anchor="end">30</text>
<line x1="307.50" y1="960.20" x2="314.50" y2="960.20" stroke="#111" stroke-width="2.2" stroke-linecap="butt"/>
<text transform="translate(305.60,965.80) scale(0.93,1)" font-size="15.3" font-weight="bold" text-anchor="end">20</text>
<line x1="307.50" y1="989.10" x2="314.50" y2="989.10" stroke="#111" stroke-width="2.2" stroke-linecap="butt"/>
<text transform="translate(305.60,994.70) scale(0.93,1)" font-size="15.3" font-weight="bold" text-anchor="end">10</text>
<line x1="307.50" y1="1018.00" x2="314.50" y2="1018.00" stroke="#111" stroke-width="2.2" stroke-linecap="butt"/>
<text transform="translate(305.60,1023.60) scale(0.93,1)" font-size="15.3" font-weight="bold" text-anchor="end">0</text>
<line x1="334.70" y1="1018.00" x2="334.70" y2="1025.20" stroke="#111" stroke-width="2.2" stroke-linecap="butt"/>
<line x1="375.40" y1="1018.00" x2="375.40" y2="1025.20" stroke="#111" stroke-width="2.2" stroke-linecap="butt"/>
<line x1="416.10" y1="1018.00" x2="416.10" y2="1025.20" stroke="#111" stroke-width="2.2" stroke-linecap="butt"/>
<line x1="456.90" y1="1018.00" x2="456.90" y2="1025.20" stroke="#111" stroke-width="2.2" stroke-linecap="butt"/>
<line x1="497.80" y1="1018.00" x2="497.80" y2="1025.20" stroke="#111" stroke-width="2.2" stroke-linecap="butt"/>
<text transform="translate(279.20,969.80) rotate(-90)" font-size="18" font-weight="bold" textLength="31.3" lengthAdjust="spacingAndGlyphs">IFN-</text>
<text transform="translate(278.40,938.20) rotate(-90)" font-size="12.5">&#947;</text>
<text transform="translate(279.20,924.20) rotate(-90)" font-size="18" font-weight="bold" textLength="66.8" lengthAdjust="spacingAndGlyphs">(ng/mL)</text>
<text x="334.70" y="1038.40" font-size="14.0" text-anchor="middle" >1:1</text>
<text x="375.40" y="1038.40" font-size="14.0" text-anchor="middle" >30:1</text>
<text x="416.10" y="1038.40" font-size="14.0" text-anchor="middle" >10:1</text>
<text x="456.90" y="1038.40" font-size="14.0" text-anchor="middle" >3:1</text>
<text x="497.80" y="1038.40" font-size="14.0" text-anchor="middle" >1:1</text>
<polyline points="334.70,1018.00 375.40,1018.00 416.10,1018.00 456.90,1018.00 497.80,1018.00" fill="none" stroke="#0a0a0a" stroke-width="2.3"/>
<polyline points="375.40,1013.95 416.10,1004.42 456.90,986.79 497.80,966.56" fill="none" stroke="#0a0a0a" stroke-width="2.3"/>
<polyline points="375.40,1000.52 416.10,973.78 456.90,922.92 497.80,855.00" fill="none" stroke="#0a0a0a" stroke-width="2.3"/>
<line x1="416.10" y1="998.42" x2="416.10" y2="1010.42" stroke="#111" stroke-width="2.3" stroke-linecap="butt"/>
<line x1="410.40" y1="998.42" x2="421.80" y2="998.42" stroke="#111" stroke-width="2.3" stroke-linecap="butt"/>
<line x1="410.40" y1="1010.42" x2="421.80" y2="1010.42" stroke="#111" stroke-width="2.3" stroke-linecap="butt"/>
<line x1="416.10" y1="967.28" x2="416.10" y2="980.28" stroke="#111" stroke-width="2.3" stroke-linecap="butt"/>
<line x1="410.40" y1="967.28" x2="421.80" y2="967.28" stroke="#111" stroke-width="2.3" stroke-linecap="butt"/>
<line x1="410.40" y1="980.28" x2="421.80" y2="980.28" stroke="#111" stroke-width="2.3" stroke-linecap="butt"/>
<line x1="456.90" y1="975.54" x2="456.90" y2="998.04" stroke="#111" stroke-width="2.3" stroke-linecap="butt"/>
<line x1="451.20" y1="975.54" x2="462.60" y2="975.54" stroke="#111" stroke-width="2.3" stroke-linecap="butt"/>
<line x1="451.20" y1="998.04" x2="462.60" y2="998.04" stroke="#111" stroke-width="2.3" stroke-linecap="butt"/>
<line x1="456.90" y1="902.32" x2="456.90" y2="943.52" stroke="#111" stroke-width="2.3" stroke-linecap="butt"/>
<line x1="451.20" y1="902.32" x2="462.60" y2="902.32" stroke="#111" stroke-width="2.3" stroke-linecap="butt"/>
<line x1="451.20" y1="943.52" x2="462.60" y2="943.52" stroke="#111" stroke-width="2.3" stroke-linecap="butt"/>
<line x1="497.80" y1="951.96" x2="497.80" y2="981.16" stroke="#111" stroke-width="2.3" stroke-linecap="butt"/>
<line x1="492.10" y1="951.96" x2="503.50" y2="951.96" stroke="#111" stroke-width="2.3" stroke-linecap="butt"/>
<line x1="492.10" y1="981.16" x2="503.50" y2="981.16" stroke="#111" stroke-width="2.3" stroke-linecap="butt"/>
<line x1="497.80" y1="836.50" x2="497.80" y2="873.50" stroke="#111" stroke-width="2.3" stroke-linecap="butt"/>
<line x1="492.10" y1="836.50" x2="503.50" y2="836.50" stroke="#111" stroke-width="2.3" stroke-linecap="butt"/>
<line x1="492.10" y1="873.50" x2="503.50" y2="873.50" stroke="#111" stroke-width="2.3" stroke-linecap="butt"/>
<path d="M334.70,1007.13 L340.90,1018.53 L328.50,1018.53 Z" fill="#0a0a0a"/>
<path d="M375.40,1007.13 L381.60,1018.53 L369.20,1018.53 Z" fill="#0a0a0a"/>
<path d="M416.10,999.02 L421.50,1008.82 L410.70,1008.82 Z" fill="#fff" stroke="#0a0a0a" stroke-width="2.3" stroke-linejoin="miter"/>
<path d="M456.90,981.39 L462.30,991.19 L451.50,991.19 Z" fill="#fff" stroke="#0a0a0a" stroke-width="2.3" stroke-linejoin="miter"/>
<path d="M497.80,961.16 L503.20,970.96 L492.40,970.96 Z" fill="#fff" stroke="#0a0a0a" stroke-width="2.3" stroke-linejoin="miter"/>
<rect x="330.10" y="1013.40" width="9.20" height="9.20" fill="#fff" stroke="#0a0a0a" stroke-width="2.4"/>
<rect x="370.80" y="1013.40" width="9.20" height="9.20" fill="#fff" stroke="#0a0a0a" stroke-width="2.4"/>
<rect x="411.50" y="1013.40" width="9.20" height="9.20" fill="#fff" stroke="#0a0a0a" stroke-width="2.4"/>
<rect x="452.30" y="1013.40" width="9.20" height="9.20" fill="#fff" stroke="#0a0a0a" stroke-width="2.4"/>
<rect x="493.20" y="1013.40" width="9.20" height="9.20" fill="#fff" stroke="#0a0a0a" stroke-width="2.4"/>
<circle cx="375.40" cy="1000.52" r="5.00" fill="#fff" stroke="#0a0a0a" stroke-width="2.45"/>
<circle cx="416.10" cy="973.78" r="5.00" fill="#fff" stroke="#0a0a0a" stroke-width="2.45"/>
<circle cx="456.90" cy="922.92" r="5.00" fill="#fff" stroke="#0a0a0a" stroke-width="2.45"/>
<circle cx="497.80" cy="855.00" r="5.00" fill="#fff" stroke="#0a0a0a" stroke-width="2.45"/>
<text transform="translate(331.30,1002.60) scale(0.97,1)" font-size="12.2" style="stroke-width:0.15px">n</text>
<text transform="translate(339.00,1002.60) scale(0.97,1)" font-size="12.2" style="stroke-width:0.15px">d</text>
<line x1="360.80" y1="1046.40" x2="506.80" y2="1046.40" stroke="#111" stroke-width="2.0" stroke-linecap="butt"/>
<line x1="308.80" y1="1072.00" x2="519.00" y2="1072.00" stroke="#111" stroke-width="2.0" stroke-linecap="butt"/>
<text x="306.20" y="1063.70" font-size="14.6" font-weight="bold" textLength="45.8" lengthAdjust="spacingAndGlyphs" >-OVAp</text>
<text x="411.00" y="1063.40" font-size="14.6" font-weight="bold" textLength="48.6" lengthAdjust="spacingAndGlyphs" >+OVAp</text>
<text x="346.20" y="1097.00" font-size="18" font-weight="bold" textLength="132.4" lengthAdjust="spacingAndGlyphs" >Ratio OT-II:APC</text>
</g>
</svg>
</body></html>
